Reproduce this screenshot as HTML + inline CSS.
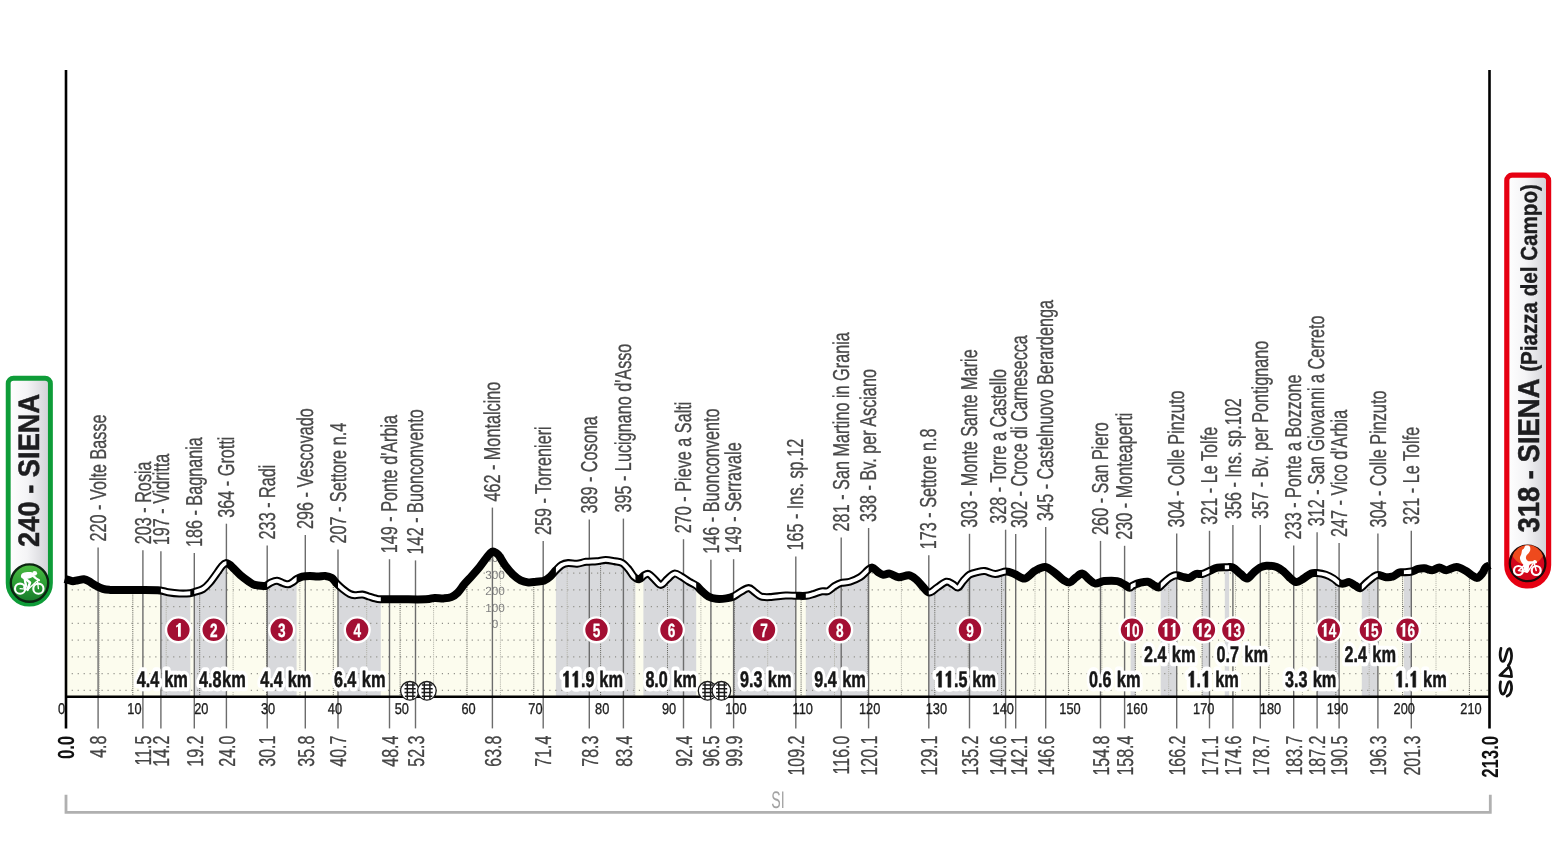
<!DOCTYPE html>
<html lang="it"><head><meta charset="utf-8"><title>Strade Bianche - Altimetria</title>
<style>html,body{margin:0;padding:0;background:#fff}body{width:1558px;height:856px;overflow:hidden}svg{display:block;will-change:transform}text{font-family:"Liberation Sans", sans-serif;text-rendering:geometricPrecision}</style></head><body>
<svg width="1558" height="856" viewBox="0 0 1558 856">
<defs>
<clipPath id="area"><path d="M64.8 578.9C65.5 579.1 67.6 579.8 69.0 580.2C70.4 580.6 71.5 581.2 73.0 581.2C74.5 581.2 76.2 580.5 78.0 580.2C79.8 579.9 82.1 579.0 83.9 579.2C85.7 579.4 87.2 580.2 89.0 581.2C90.8 582.2 92.4 583.7 94.7 585.0C97.0 586.3 100.5 588.1 103.0 588.9C105.5 589.7 106.3 589.7 110.0 589.9C113.7 590.1 119.2 590.1 125.0 590.1C130.8 590.1 139.1 590.0 145.0 590.0C150.9 590.0 156.4 590.0 160.2 590.4C164.0 590.8 164.8 591.7 168.0 592.2C171.2 592.7 175.7 593.3 179.4 593.5C183.1 593.7 187.5 593.5 190.0 593.2C192.5 593.0 192.3 592.7 194.5 592.0C196.7 591.3 200.4 590.6 203.0 589.0C205.6 587.4 207.6 585.3 210.0 582.5C212.4 579.7 215.7 574.8 217.7 572.0C219.7 569.2 220.7 567.5 222.0 566.0C223.3 564.5 224.6 563.3 225.8 563.1C227.1 562.9 228.3 563.9 229.5 564.6C230.7 565.4 231.0 565.8 232.8 567.6C234.6 569.4 237.9 573.0 240.5 575.3C243.1 577.5 245.8 579.5 248.2 581.1C250.6 582.7 252.1 584.1 254.7 584.9C257.3 585.7 261.7 585.9 263.6 586.0C265.5 586.1 264.9 586.2 266.2 585.6C267.5 585.0 269.5 583.2 271.3 582.4C273.1 581.6 275.2 580.7 277.1 580.8C279.0 580.9 281.1 582.4 282.9 583.0C284.7 583.6 286.3 584.5 288.0 584.3C289.7 584.1 291.8 582.6 293.2 581.7C294.6 580.9 294.9 580.1 296.4 579.2C297.9 578.4 299.9 577.2 302.2 576.6C304.4 576.0 307.3 575.9 309.9 575.9C312.5 575.9 315.0 576.6 317.6 576.6C320.2 576.6 323.0 575.7 325.3 575.9C327.6 576.1 329.8 576.6 331.7 577.9C333.6 579.2 334.9 581.7 336.8 583.6C338.7 585.5 341.1 587.7 343.2 589.4C345.3 591.1 347.8 592.9 349.7 593.9C351.6 594.9 352.7 595.1 354.8 595.2C356.9 595.3 360.1 594.4 362.5 594.6C364.9 594.8 366.8 595.9 368.9 596.5C371.0 597.1 373.4 597.9 375.3 598.4C377.2 598.9 376.4 599.1 380.5 599.3C384.6 599.4 392.5 599.3 400.0 599.3C407.5 599.3 419.9 599.5 425.7 599.3C431.5 599.1 431.7 598.1 434.7 598.0C437.7 597.9 440.8 598.5 443.6 598.4C446.4 598.2 448.9 598.1 451.3 597.1C453.7 596.1 455.7 594.7 457.8 592.6C459.9 590.5 461.9 587.1 464.2 584.3C466.5 581.5 469.3 578.8 471.9 575.9C474.5 573.0 477.0 570.2 479.6 567.0C482.2 563.8 485.5 559.0 487.3 556.7C489.1 554.4 489.5 553.9 490.5 553.0C491.5 552.1 492.2 551.6 493.1 551.6C494.0 551.6 494.9 552.2 495.8 552.8C496.8 553.4 497.2 553.2 498.8 555.4C500.4 557.5 502.9 562.5 505.3 565.7C507.7 568.9 510.4 572.2 513.0 574.7C515.6 577.2 518.1 579.1 520.7 580.4C523.3 581.7 525.8 582.2 528.4 582.4C531.0 582.6 533.5 582.0 536.1 581.7C538.7 581.4 541.4 581.6 543.8 580.8C546.1 579.9 548.2 578.4 550.2 576.6C552.2 574.8 554.1 572.1 556.0 570.2C557.9 568.3 559.7 566.2 561.7 565.0C563.7 563.8 565.6 563.3 568.2 563.1C570.8 562.9 574.1 563.9 577.1 563.7C580.1 563.5 582.8 562.2 586.1 561.8C589.4 561.4 593.4 561.5 596.7 561.2C600.0 560.9 602.7 559.9 605.7 559.9C608.7 559.9 611.9 560.7 614.7 561.2C617.5 561.7 620.0 561.7 622.4 563.1C624.8 564.5 626.9 567.2 628.8 569.5C630.7 571.8 632.2 575.0 633.9 576.6C635.6 578.2 637.3 579.4 639.0 579.2C640.7 579.0 642.6 576.2 644.2 575.3C645.8 574.4 647.0 573.4 648.7 574.0C650.4 574.6 652.5 577.4 654.5 579.2C656.5 581.0 658.8 584.9 660.9 584.9C663.0 584.9 665.0 581.1 667.3 579.2C669.5 577.3 672.0 574.0 674.4 573.6C676.8 573.2 678.9 575.2 681.4 576.6C683.9 578.0 686.6 580.2 689.1 581.7C691.6 583.2 694.1 584.0 696.2 585.6C698.4 587.2 700.0 589.5 702.0 591.3C704.0 593.1 706.0 595.2 708.4 596.5C710.8 597.8 713.1 598.5 716.1 598.8C719.1 599.1 723.4 598.8 726.3 598.4C729.2 598.0 731.0 597.6 733.4 596.5C735.8 595.4 737.9 593.4 740.5 592.0C743.1 590.6 746.4 588.1 748.8 588.1C751.1 588.1 752.6 590.6 754.6 592.0C756.6 593.4 758.4 595.6 761.0 596.5C763.6 597.4 765.9 597.3 770.0 597.1C774.1 596.9 781.4 595.7 785.7 595.5C790.0 595.3 792.5 595.8 795.9 595.8C799.3 595.8 803.2 596.1 806.2 595.8C809.2 595.5 811.3 594.6 813.9 593.9C816.5 593.1 819.2 591.8 821.6 591.3C824.0 590.8 825.9 592.0 828.0 591.1C830.1 590.2 832.4 587.6 834.5 586.2C836.6 584.9 838.3 583.8 840.9 583.0C843.5 582.2 846.7 582.7 849.9 581.7C853.1 580.7 857.1 579.1 860.1 577.2C863.1 575.3 865.8 571.8 867.8 570.2C869.8 568.6 870.6 567.3 872.3 567.6C874.0 567.9 876.3 570.9 878.1 572.1C879.9 573.3 881.3 574.5 883.2 574.7C885.1 575.0 887.1 573.2 889.7 573.6C892.3 574.0 895.4 576.9 898.6 577.2C901.8 577.5 905.9 574.9 908.9 575.3C911.9 575.7 914.2 577.9 916.6 579.8C919.0 581.7 920.9 584.8 923.0 586.9C925.1 589.0 927.0 592.5 929.4 592.6C931.8 592.7 934.4 589.3 937.2 587.5C940.0 585.7 943.8 582.2 946.4 581.7C949.0 581.2 950.9 583.3 952.8 584.3C954.7 585.3 956.3 588.0 958.0 587.5C959.7 587.0 961.2 583.2 963.1 581.1C965.0 579.0 967.1 576.2 969.5 574.7C971.9 573.2 974.6 572.7 977.2 572.1C979.8 571.5 981.9 570.8 984.9 571.1C987.9 571.4 991.7 573.9 995.2 574.0C998.7 574.1 1002.9 571.5 1006.1 571.5C1009.3 571.5 1011.4 572.8 1014.5 574.0C1017.6 575.2 1021.3 579.0 1024.7 578.5C1028.1 578.0 1031.6 572.7 1035.0 570.8C1038.4 568.9 1041.9 566.6 1045.3 567.0C1048.7 567.4 1052.5 571.3 1055.5 573.4C1058.5 575.5 1060.8 578.3 1063.2 579.8C1065.6 581.3 1067.6 582.8 1069.7 582.4C1071.8 582.0 1074.0 578.7 1076.1 577.2C1078.2 575.7 1080.4 573.3 1082.5 573.6C1084.6 573.9 1086.8 577.5 1088.9 579.2C1091.0 580.9 1092.7 583.3 1095.3 583.6C1097.9 583.9 1100.6 581.5 1104.3 581.1C1108.0 580.7 1113.8 580.5 1117.2 581.1C1120.6 581.7 1122.8 583.8 1124.9 584.9C1127.0 586.0 1128.3 587.7 1129.6 587.8C1130.9 587.9 1131.2 586.4 1132.8 585.6C1134.4 584.8 1136.8 583.6 1139.3 583.0C1141.8 582.4 1145.2 581.4 1147.6 581.7C1149.9 582.0 1151.6 583.9 1153.4 584.9C1155.2 585.9 1157.0 587.6 1158.5 587.5C1160.0 587.4 1160.7 585.8 1162.4 584.3C1164.1 582.8 1166.6 580.0 1168.8 578.5C1171.0 577.0 1173.2 575.5 1175.8 575.3C1178.4 575.1 1182.0 576.8 1184.2 577.2C1186.5 577.6 1187.4 578.4 1189.3 577.9C1191.2 577.4 1193.5 574.6 1195.7 574.0C1197.9 573.4 1199.8 574.5 1202.2 574.0C1204.6 573.5 1207.3 571.9 1209.9 570.8C1212.5 569.7 1214.7 568.2 1217.6 567.6C1220.5 567.0 1224.6 567.2 1227.2 567.2C1229.8 567.2 1230.8 566.5 1233.0 567.6C1235.2 568.7 1238.4 572.2 1240.7 574.0C1243.0 575.8 1245.0 578.7 1247.1 578.5C1249.2 578.3 1251.4 574.5 1253.5 572.7C1255.6 570.9 1257.8 568.8 1259.9 567.6C1262.0 566.4 1263.5 565.8 1266.3 565.7C1269.1 565.6 1273.6 565.9 1276.6 567.0C1279.6 568.1 1281.9 570.2 1284.3 572.1C1286.7 574.0 1288.7 576.8 1290.7 578.5C1292.7 580.2 1294.3 582.1 1296.5 582.1C1298.7 582.1 1301.1 580.0 1303.6 578.5C1306.1 577.0 1309.0 574.3 1311.3 573.4C1313.6 572.5 1314.9 572.9 1317.3 573.1C1319.7 573.3 1323.0 573.8 1325.7 574.7C1328.4 575.6 1331.2 577.1 1333.4 578.5C1335.7 579.9 1337.5 582.1 1339.2 583.0C1340.9 583.9 1341.9 583.8 1343.6 583.6C1345.3 583.5 1347.5 581.8 1349.4 582.1C1351.3 582.4 1353.4 584.6 1355.2 585.6C1357.0 586.6 1358.4 588.6 1360.3 588.1C1362.2 587.6 1364.6 584.2 1366.8 582.4C1369.0 580.6 1371.3 578.5 1373.2 577.2C1375.1 576.0 1375.9 574.9 1378.0 574.9C1380.1 574.9 1383.6 576.9 1386.0 577.2C1388.4 577.5 1390.3 577.4 1392.4 576.6C1394.5 575.9 1397.1 573.4 1398.8 572.7C1400.5 572.0 1400.5 572.5 1402.7 572.3C1404.9 572.1 1409.1 572.1 1411.7 571.5C1414.3 570.9 1416.0 569.4 1418.1 568.9C1420.2 568.4 1422.2 568.0 1424.5 568.2C1426.8 568.4 1429.7 570.3 1432.2 570.2C1434.7 570.1 1437.0 567.6 1439.3 567.6C1441.6 567.6 1443.4 570.3 1446.3 570.2C1449.2 570.1 1453.4 566.9 1456.6 567.0C1459.8 567.1 1463.0 569.4 1465.6 570.8C1468.2 572.2 1470.1 574.1 1472.0 575.3C1473.9 576.5 1475.5 578.2 1477.2 577.9C1478.9 577.6 1480.9 575.1 1482.3 573.4C1483.7 571.7 1484.3 568.9 1485.5 567.6C1486.7 566.3 1488.9 565.8 1489.6 565.4L1489.6 696.7L64.8 696.7Z"/></clipPath>
<clipPath id="sect"><rect x="160.9" y="500" width="29.4" height="220"/><rect x="194.3" y="500" width="32.1" height="220"/><rect x="267.2" y="500" width="29.4" height="220"/><rect x="338.0" y="500" width="42.8" height="220"/><rect x="555.9" y="500" width="79.5" height="220"/><rect x="643.4" y="500" width="52.8" height="220"/><rect x="733.6" y="500" width="62.2" height="220"/><rect x="805.8" y="500" width="62.8" height="220"/><rect x="928.8" y="500" width="76.9" height="220"/><rect x="1130.6" y="500" width="5.0" height="220"/><rect x="1160.7" y="500" width="16.0" height="220"/><rect x="1202.1" y="500" width="7.4" height="220"/><rect x="1224.8" y="500" width="4.3" height="220"/><rect x="1317.1" y="500" width="22.1" height="220"/><rect x="1361.8" y="500" width="16.0" height="220"/><rect x="1403.9" y="500" width="7.4" height="220"/></clipPath>
<linearGradient id="pillg" x1="0" x2="1" y1="0" y2="0"><stop offset="0" stop-color="#ffffff"/><stop offset="0.45" stop-color="#f4f4f6"/><stop offset="1" stop-color="#cfcfd4"/></linearGradient>
<linearGradient id="greeng" x1="0" x2="0" y1="0" y2="1"><stop offset="0" stop-color="#4dbb42"/><stop offset="0.55" stop-color="#2a9c34"/><stop offset="1" stop-color="#19792a"/></linearGradient>
</defs>
<rect width="1558" height="856" fill="#fff"/>
<g clip-path="url(#area)">
<rect x="60" y="540" width="1440" height="160" fill="#fcfcee"/>
<rect x="160.9" y="540" width="29.4" height="160" fill="#d8d9dc"/>
<rect x="194.3" y="540" width="32.1" height="160" fill="#d8d9dc"/>
<rect x="267.2" y="540" width="29.4" height="160" fill="#d8d9dc"/>
<rect x="338.0" y="540" width="42.8" height="160" fill="#d8d9dc"/>
<rect x="555.9" y="540" width="79.5" height="160" fill="#d8d9dc"/>
<rect x="643.4" y="540" width="52.8" height="160" fill="#d8d9dc"/>
<rect x="733.6" y="540" width="62.2" height="160" fill="#d8d9dc"/>
<rect x="805.8" y="540" width="62.8" height="160" fill="#d8d9dc"/>
<rect x="928.8" y="540" width="76.9" height="160" fill="#d8d9dc"/>
<rect x="1130.6" y="540" width="5.0" height="160" fill="#d8d9dc"/>
<rect x="1160.7" y="540" width="16.0" height="160" fill="#d8d9dc"/>
<rect x="1202.1" y="540" width="7.4" height="160" fill="#d8d9dc"/>
<rect x="1224.8" y="540" width="4.3" height="160" fill="#d8d9dc"/>
<rect x="1317.1" y="540" width="22.1" height="160" fill="#d8d9dc"/>
<rect x="1361.8" y="540" width="16.0" height="160" fill="#d8d9dc"/>
<rect x="1403.9" y="540" width="7.4" height="160" fill="#d8d9dc"/>
<line x1="71.7" x2="1490" y1="573.1" y2="573.1" stroke="#8f8f88" stroke-width="1.15" stroke-dasharray="1.15 4.82"/>
<line x1="71.7" x2="1490" y1="589.9" y2="589.9" stroke="#8f8f88" stroke-width="1.15" stroke-dasharray="1.15 4.82"/>
<line x1="71.7" x2="1490" y1="606.6" y2="606.6" stroke="#8f8f88" stroke-width="1.15" stroke-dasharray="1.15 4.82"/>
<line x1="71.7" x2="1490" y1="623.4" y2="623.4" stroke="#8f8f88" stroke-width="1.15" stroke-dasharray="1.15 4.82"/>
<line x1="71.7" x2="1490" y1="640.1" y2="640.1" stroke="#8f8f88" stroke-width="1.15" stroke-dasharray="1.15 4.82"/>
<line x1="71.7" x2="1490" y1="656.9" y2="656.9" stroke="#8f8f88" stroke-width="1.15" stroke-dasharray="1.15 4.82"/>
<line x1="71.7" x2="1490" y1="673.6" y2="673.6" stroke="#8f8f88" stroke-width="1.15" stroke-dasharray="1.15 4.82"/>
<line x1="71.7" x2="1490" y1="690.4" y2="690.4" stroke="#8f8f88" stroke-width="1.15" stroke-dasharray="1.15 4.82"/>
<line x1="99.4" x2="99.4" y1="545" y2="697" stroke="#b2b2a8" stroke-width="1" stroke-dasharray="1.1 1"/>
<line x1="132.8" x2="132.8" y1="545" y2="697" stroke="#66665f" stroke-width="1" stroke-dasharray="1.1 1"/>
<line x1="166.2" x2="166.2" y1="545" y2="697" stroke="#b2b2a8" stroke-width="1" stroke-dasharray="1.1 1"/>
<line x1="199.7" x2="199.7" y1="545" y2="697" stroke="#66665f" stroke-width="1" stroke-dasharray="1.1 1"/>
<line x1="233.1" x2="233.1" y1="545" y2="697" stroke="#b2b2a8" stroke-width="1" stroke-dasharray="1.1 1"/>
<line x1="266.5" x2="266.5" y1="545" y2="697" stroke="#66665f" stroke-width="1" stroke-dasharray="1.1 1"/>
<line x1="299.9" x2="299.9" y1="545" y2="697" stroke="#b2b2a8" stroke-width="1" stroke-dasharray="1.1 1"/>
<line x1="333.3" x2="333.3" y1="545" y2="697" stroke="#66665f" stroke-width="1" stroke-dasharray="1.1 1"/>
<line x1="366.7" x2="366.7" y1="545" y2="697" stroke="#b2b2a8" stroke-width="1" stroke-dasharray="1.1 1"/>
<line x1="400.1" x2="400.1" y1="545" y2="697" stroke="#66665f" stroke-width="1" stroke-dasharray="1.1 1"/>
<line x1="433.6" x2="433.6" y1="545" y2="697" stroke="#b2b2a8" stroke-width="1" stroke-dasharray="1.1 1"/>
<line x1="467.0" x2="467.0" y1="545" y2="697" stroke="#66665f" stroke-width="1" stroke-dasharray="1.1 1"/>
<line x1="500.4" x2="500.4" y1="545" y2="697" stroke="#b2b2a8" stroke-width="1" stroke-dasharray="1.1 1"/>
<line x1="533.8" x2="533.8" y1="545" y2="697" stroke="#66665f" stroke-width="1" stroke-dasharray="1.1 1"/>
<line x1="567.2" x2="567.2" y1="545" y2="697" stroke="#b2b2a8" stroke-width="1" stroke-dasharray="1.1 1"/>
<line x1="600.6" x2="600.6" y1="545" y2="697" stroke="#66665f" stroke-width="1" stroke-dasharray="1.1 1"/>
<line x1="634.1" x2="634.1" y1="545" y2="697" stroke="#b2b2a8" stroke-width="1" stroke-dasharray="1.1 1"/>
<line x1="667.5" x2="667.5" y1="545" y2="697" stroke="#66665f" stroke-width="1" stroke-dasharray="1.1 1"/>
<line x1="700.9" x2="700.9" y1="545" y2="697" stroke="#b2b2a8" stroke-width="1" stroke-dasharray="1.1 1"/>
<line x1="734.3" x2="734.3" y1="545" y2="697" stroke="#66665f" stroke-width="1" stroke-dasharray="1.1 1"/>
<line x1="767.7" x2="767.7" y1="545" y2="697" stroke="#b2b2a8" stroke-width="1" stroke-dasharray="1.1 1"/>
<line x1="801.1" x2="801.1" y1="545" y2="697" stroke="#66665f" stroke-width="1" stroke-dasharray="1.1 1"/>
<line x1="834.5" x2="834.5" y1="545" y2="697" stroke="#b2b2a8" stroke-width="1" stroke-dasharray="1.1 1"/>
<line x1="868.0" x2="868.0" y1="545" y2="697" stroke="#66665f" stroke-width="1" stroke-dasharray="1.1 1"/>
<line x1="901.4" x2="901.4" y1="545" y2="697" stroke="#b2b2a8" stroke-width="1" stroke-dasharray="1.1 1"/>
<line x1="934.8" x2="934.8" y1="545" y2="697" stroke="#66665f" stroke-width="1" stroke-dasharray="1.1 1"/>
<line x1="968.2" x2="968.2" y1="545" y2="697" stroke="#b2b2a8" stroke-width="1" stroke-dasharray="1.1 1"/>
<line x1="1001.6" x2="1001.6" y1="545" y2="697" stroke="#66665f" stroke-width="1" stroke-dasharray="1.1 1"/>
<line x1="1035.0" x2="1035.0" y1="545" y2="697" stroke="#b2b2a8" stroke-width="1" stroke-dasharray="1.1 1"/>
<line x1="1068.4" x2="1068.4" y1="545" y2="697" stroke="#66665f" stroke-width="1" stroke-dasharray="1.1 1"/>
<line x1="1101.9" x2="1101.9" y1="545" y2="697" stroke="#b2b2a8" stroke-width="1" stroke-dasharray="1.1 1"/>
<line x1="1135.3" x2="1135.3" y1="545" y2="697" stroke="#66665f" stroke-width="1" stroke-dasharray="1.1 1"/>
<line x1="1168.7" x2="1168.7" y1="545" y2="697" stroke="#b2b2a8" stroke-width="1" stroke-dasharray="1.1 1"/>
<line x1="1202.1" x2="1202.1" y1="545" y2="697" stroke="#66665f" stroke-width="1" stroke-dasharray="1.1 1"/>
<line x1="1235.5" x2="1235.5" y1="545" y2="697" stroke="#b2b2a8" stroke-width="1" stroke-dasharray="1.1 1"/>
<line x1="1268.9" x2="1268.9" y1="545" y2="697" stroke="#66665f" stroke-width="1" stroke-dasharray="1.1 1"/>
<line x1="1302.4" x2="1302.4" y1="545" y2="697" stroke="#b2b2a8" stroke-width="1" stroke-dasharray="1.1 1"/>
<line x1="1335.8" x2="1335.8" y1="545" y2="697" stroke="#66665f" stroke-width="1" stroke-dasharray="1.1 1"/>
<line x1="1369.2" x2="1369.2" y1="545" y2="697" stroke="#b2b2a8" stroke-width="1" stroke-dasharray="1.1 1"/>
<line x1="1402.6" x2="1402.6" y1="545" y2="697" stroke="#66665f" stroke-width="1" stroke-dasharray="1.1 1"/>
<line x1="1436.0" x2="1436.0" y1="545" y2="697" stroke="#b2b2a8" stroke-width="1" stroke-dasharray="1.1 1"/>
<line x1="1469.4" x2="1469.4" y1="545" y2="697" stroke="#66665f" stroke-width="1" stroke-dasharray="1.1 1"/>
</g>
<text x="495.0" y="557.7" font-size="11.8" fill="#808080" text-anchor="middle" dy="4.2">400</text>
<text x="495.0" y="574.3" font-size="11.8" fill="#808080" text-anchor="middle" dy="4.2">300</text>
<text x="495.0" y="590.9" font-size="11.8" fill="#808080" text-anchor="middle" dy="4.2">200</text>
<text x="495.0" y="607.5" font-size="11.8" fill="#808080" text-anchor="middle" dy="4.2">100</text>
<text x="495.0" y="624.0" font-size="11.8" fill="#808080" text-anchor="middle" dy="4.2">0</text>
<line x1="98.1" x2="98.1" y1="547.5" y2="728.4" stroke="#6c6c6c" stroke-width="1.4"/>
<line x1="142.9" x2="142.9" y1="550.3" y2="728.4" stroke="#6c6c6c" stroke-width="1.4"/>
<line x1="160.9" x2="160.9" y1="551.3" y2="728.4" stroke="#6c6c6c" stroke-width="1.4"/>
<line x1="194.3" x2="194.3" y1="553.1" y2="728.4" stroke="#6c6c6c" stroke-width="1.4"/>
<line x1="226.4" x2="226.4" y1="523.7" y2="728.4" stroke="#6c6c6c" stroke-width="1.4"/>
<line x1="267.2" x2="267.2" y1="545.4" y2="728.4" stroke="#6c6c6c" stroke-width="1.4"/>
<line x1="305.3" x2="305.3" y1="535.0" y2="728.4" stroke="#6c6c6c" stroke-width="1.4"/>
<line x1="338.0" x2="338.0" y1="549.6" y2="728.4" stroke="#6c6c6c" stroke-width="1.4"/>
<line x1="389.5" x2="389.5" y1="559.2" y2="728.4" stroke="#6c6c6c" stroke-width="1.4"/>
<line x1="415.5" x2="415.5" y1="560.4" y2="728.4" stroke="#6c6c6c" stroke-width="1.4"/>
<line x1="492.4" x2="492.4" y1="507.6" y2="728.4" stroke="#6c6c6c" stroke-width="1.4"/>
<line x1="543.2" x2="543.2" y1="541.1" y2="728.4" stroke="#6c6c6c" stroke-width="1.4"/>
<line x1="589.3" x2="589.3" y1="519.6" y2="728.4" stroke="#6c6c6c" stroke-width="1.4"/>
<line x1="623.4" x2="623.4" y1="518.6" y2="728.4" stroke="#6c6c6c" stroke-width="1.4"/>
<line x1="683.5" x2="683.5" y1="539.2" y2="728.4" stroke="#6c6c6c" stroke-width="1.4"/>
<line x1="710.9" x2="710.9" y1="559.7" y2="728.4" stroke="#6c6c6c" stroke-width="1.4"/>
<line x1="733.6" x2="733.6" y1="559.2" y2="728.4" stroke="#6c6c6c" stroke-width="1.4"/>
<line x1="795.8" x2="795.8" y1="556.6" y2="728.4" stroke="#6c6c6c" stroke-width="1.4"/>
<line x1="841.2" x2="841.2" y1="537.4" y2="728.4" stroke="#6c6c6c" stroke-width="1.4"/>
<line x1="868.6" x2="868.6" y1="528.0" y2="728.4" stroke="#6c6c6c" stroke-width="1.4"/>
<line x1="928.8" x2="928.8" y1="555.3" y2="728.4" stroke="#6c6c6c" stroke-width="1.4"/>
<line x1="969.5" x2="969.5" y1="533.8" y2="728.4" stroke="#6c6c6c" stroke-width="1.4"/>
<line x1="1005.6" x2="1005.6" y1="529.7" y2="728.4" stroke="#6c6c6c" stroke-width="1.4"/>
<line x1="1015.7" x2="1015.7" y1="534.0" y2="728.4" stroke="#6c6c6c" stroke-width="1.4"/>
<line x1="1045.7" x2="1045.7" y1="526.9" y2="728.4" stroke="#6c6c6c" stroke-width="1.4"/>
<line x1="1100.5" x2="1100.5" y1="540.9" y2="728.4" stroke="#6c6c6c" stroke-width="1.4"/>
<line x1="1124.6" x2="1124.6" y1="545.8" y2="728.4" stroke="#6c6c6c" stroke-width="1.4"/>
<line x1="1176.7" x2="1176.7" y1="533.6" y2="728.4" stroke="#6c6c6c" stroke-width="1.4"/>
<line x1="1209.5" x2="1209.5" y1="530.8" y2="728.4" stroke="#6c6c6c" stroke-width="1.4"/>
<line x1="1232.9" x2="1232.9" y1="525.1" y2="728.4" stroke="#6c6c6c" stroke-width="1.4"/>
<line x1="1260.3" x2="1260.3" y1="524.9" y2="728.4" stroke="#6c6c6c" stroke-width="1.4"/>
<line x1="1293.7" x2="1293.7" y1="545.4" y2="728.4" stroke="#6c6c6c" stroke-width="1.4"/>
<line x1="1317.1" x2="1317.1" y1="532.3" y2="728.4" stroke="#6c6c6c" stroke-width="1.4"/>
<line x1="1339.1" x2="1339.1" y1="543.0" y2="728.4" stroke="#6c6c6c" stroke-width="1.4"/>
<line x1="1377.9" x2="1377.9" y1="533.6" y2="728.4" stroke="#6c6c6c" stroke-width="1.4"/>
<line x1="1411.3" x2="1411.3" y1="530.8" y2="728.4" stroke="#6c6c6c" stroke-width="1.4"/>
<path d="M64.8 578.9C65.5 579.1 67.6 579.8 69.0 580.2C70.4 580.6 71.5 581.2 73.0 581.2C74.5 581.2 76.2 580.5 78.0 580.2C79.8 579.9 82.1 579.0 83.9 579.2C85.7 579.4 87.2 580.2 89.0 581.2C90.8 582.2 92.4 583.7 94.7 585.0C97.0 586.3 100.5 588.1 103.0 588.9C105.5 589.7 106.3 589.7 110.0 589.9C113.7 590.1 119.2 590.1 125.0 590.1C130.8 590.1 139.1 590.0 145.0 590.0C150.9 590.0 156.4 590.0 160.2 590.4C164.0 590.8 164.8 591.7 168.0 592.2C171.2 592.7 175.7 593.3 179.4 593.5C183.1 593.7 187.5 593.5 190.0 593.2C192.5 593.0 192.3 592.7 194.5 592.0C196.7 591.3 200.4 590.6 203.0 589.0C205.6 587.4 207.6 585.3 210.0 582.5C212.4 579.7 215.7 574.8 217.7 572.0C219.7 569.2 220.7 567.5 222.0 566.0C223.3 564.5 224.6 563.3 225.8 563.1C227.1 562.9 228.3 563.9 229.5 564.6C230.7 565.4 231.0 565.8 232.8 567.6C234.6 569.4 237.9 573.0 240.5 575.3C243.1 577.5 245.8 579.5 248.2 581.1C250.6 582.7 252.1 584.1 254.7 584.9C257.3 585.7 261.7 585.9 263.6 586.0C265.5 586.1 264.9 586.2 266.2 585.6C267.5 585.0 269.5 583.2 271.3 582.4C273.1 581.6 275.2 580.7 277.1 580.8C279.0 580.9 281.1 582.4 282.9 583.0C284.7 583.6 286.3 584.5 288.0 584.3C289.7 584.1 291.8 582.6 293.2 581.7C294.6 580.9 294.9 580.1 296.4 579.2C297.9 578.4 299.9 577.2 302.2 576.6C304.4 576.0 307.3 575.9 309.9 575.9C312.5 575.9 315.0 576.6 317.6 576.6C320.2 576.6 323.0 575.7 325.3 575.9C327.6 576.1 329.8 576.6 331.7 577.9C333.6 579.2 334.9 581.7 336.8 583.6C338.7 585.5 341.1 587.7 343.2 589.4C345.3 591.1 347.8 592.9 349.7 593.9C351.6 594.9 352.7 595.1 354.8 595.2C356.9 595.3 360.1 594.4 362.5 594.6C364.9 594.8 366.8 595.9 368.9 596.5C371.0 597.1 373.4 597.9 375.3 598.4C377.2 598.9 376.4 599.1 380.5 599.3C384.6 599.4 392.5 599.3 400.0 599.3C407.5 599.3 419.9 599.5 425.7 599.3C431.5 599.1 431.7 598.1 434.7 598.0C437.7 597.9 440.8 598.5 443.6 598.4C446.4 598.2 448.9 598.1 451.3 597.1C453.7 596.1 455.7 594.7 457.8 592.6C459.9 590.5 461.9 587.1 464.2 584.3C466.5 581.5 469.3 578.8 471.9 575.9C474.5 573.0 477.0 570.2 479.6 567.0C482.2 563.8 485.5 559.0 487.3 556.7C489.1 554.4 489.5 553.9 490.5 553.0C491.5 552.1 492.2 551.6 493.1 551.6C494.0 551.6 494.9 552.2 495.8 552.8C496.8 553.4 497.2 553.2 498.8 555.4C500.4 557.5 502.9 562.5 505.3 565.7C507.7 568.9 510.4 572.2 513.0 574.7C515.6 577.2 518.1 579.1 520.7 580.4C523.3 581.7 525.8 582.2 528.4 582.4C531.0 582.6 533.5 582.0 536.1 581.7C538.7 581.4 541.4 581.6 543.8 580.8C546.1 579.9 548.2 578.4 550.2 576.6C552.2 574.8 554.1 572.1 556.0 570.2C557.9 568.3 559.7 566.2 561.7 565.0C563.7 563.8 565.6 563.3 568.2 563.1C570.8 562.9 574.1 563.9 577.1 563.7C580.1 563.5 582.8 562.2 586.1 561.8C589.4 561.4 593.4 561.5 596.7 561.2C600.0 560.9 602.7 559.9 605.7 559.9C608.7 559.9 611.9 560.7 614.7 561.2C617.5 561.7 620.0 561.7 622.4 563.1C624.8 564.5 626.9 567.2 628.8 569.5C630.7 571.8 632.2 575.0 633.9 576.6C635.6 578.2 637.3 579.4 639.0 579.2C640.7 579.0 642.6 576.2 644.2 575.3C645.8 574.4 647.0 573.4 648.7 574.0C650.4 574.6 652.5 577.4 654.5 579.2C656.5 581.0 658.8 584.9 660.9 584.9C663.0 584.9 665.0 581.1 667.3 579.2C669.5 577.3 672.0 574.0 674.4 573.6C676.8 573.2 678.9 575.2 681.4 576.6C683.9 578.0 686.6 580.2 689.1 581.7C691.6 583.2 694.1 584.0 696.2 585.6C698.4 587.2 700.0 589.5 702.0 591.3C704.0 593.1 706.0 595.2 708.4 596.5C710.8 597.8 713.1 598.5 716.1 598.8C719.1 599.1 723.4 598.8 726.3 598.4C729.2 598.0 731.0 597.6 733.4 596.5C735.8 595.4 737.9 593.4 740.5 592.0C743.1 590.6 746.4 588.1 748.8 588.1C751.1 588.1 752.6 590.6 754.6 592.0C756.6 593.4 758.4 595.6 761.0 596.5C763.6 597.4 765.9 597.3 770.0 597.1C774.1 596.9 781.4 595.7 785.7 595.5C790.0 595.3 792.5 595.8 795.9 595.8C799.3 595.8 803.2 596.1 806.2 595.8C809.2 595.5 811.3 594.6 813.9 593.9C816.5 593.1 819.2 591.8 821.6 591.3C824.0 590.8 825.9 592.0 828.0 591.1C830.1 590.2 832.4 587.6 834.5 586.2C836.6 584.9 838.3 583.8 840.9 583.0C843.5 582.2 846.7 582.7 849.9 581.7C853.1 580.7 857.1 579.1 860.1 577.2C863.1 575.3 865.8 571.8 867.8 570.2C869.8 568.6 870.6 567.3 872.3 567.6C874.0 567.9 876.3 570.9 878.1 572.1C879.9 573.3 881.3 574.5 883.2 574.7C885.1 575.0 887.1 573.2 889.7 573.6C892.3 574.0 895.4 576.9 898.6 577.2C901.8 577.5 905.9 574.9 908.9 575.3C911.9 575.7 914.2 577.9 916.6 579.8C919.0 581.7 920.9 584.8 923.0 586.9C925.1 589.0 927.0 592.5 929.4 592.6C931.8 592.7 934.4 589.3 937.2 587.5C940.0 585.7 943.8 582.2 946.4 581.7C949.0 581.2 950.9 583.3 952.8 584.3C954.7 585.3 956.3 588.0 958.0 587.5C959.7 587.0 961.2 583.2 963.1 581.1C965.0 579.0 967.1 576.2 969.5 574.7C971.9 573.2 974.6 572.7 977.2 572.1C979.8 571.5 981.9 570.8 984.9 571.1C987.9 571.4 991.7 573.9 995.2 574.0C998.7 574.1 1002.9 571.5 1006.1 571.5C1009.3 571.5 1011.4 572.8 1014.5 574.0C1017.6 575.2 1021.3 579.0 1024.7 578.5C1028.1 578.0 1031.6 572.7 1035.0 570.8C1038.4 568.9 1041.9 566.6 1045.3 567.0C1048.7 567.4 1052.5 571.3 1055.5 573.4C1058.5 575.5 1060.8 578.3 1063.2 579.8C1065.6 581.3 1067.6 582.8 1069.7 582.4C1071.8 582.0 1074.0 578.7 1076.1 577.2C1078.2 575.7 1080.4 573.3 1082.5 573.6C1084.6 573.9 1086.8 577.5 1088.9 579.2C1091.0 580.9 1092.7 583.3 1095.3 583.6C1097.9 583.9 1100.6 581.5 1104.3 581.1C1108.0 580.7 1113.8 580.5 1117.2 581.1C1120.6 581.7 1122.8 583.8 1124.9 584.9C1127.0 586.0 1128.3 587.7 1129.6 587.8C1130.9 587.9 1131.2 586.4 1132.8 585.6C1134.4 584.8 1136.8 583.6 1139.3 583.0C1141.8 582.4 1145.2 581.4 1147.6 581.7C1149.9 582.0 1151.6 583.9 1153.4 584.9C1155.2 585.9 1157.0 587.6 1158.5 587.5C1160.0 587.4 1160.7 585.8 1162.4 584.3C1164.1 582.8 1166.6 580.0 1168.8 578.5C1171.0 577.0 1173.2 575.5 1175.8 575.3C1178.4 575.1 1182.0 576.8 1184.2 577.2C1186.5 577.6 1187.4 578.4 1189.3 577.9C1191.2 577.4 1193.5 574.6 1195.7 574.0C1197.9 573.4 1199.8 574.5 1202.2 574.0C1204.6 573.5 1207.3 571.9 1209.9 570.8C1212.5 569.7 1214.7 568.2 1217.6 567.6C1220.5 567.0 1224.6 567.2 1227.2 567.2C1229.8 567.2 1230.8 566.5 1233.0 567.6C1235.2 568.7 1238.4 572.2 1240.7 574.0C1243.0 575.8 1245.0 578.7 1247.1 578.5C1249.2 578.3 1251.4 574.5 1253.5 572.7C1255.6 570.9 1257.8 568.8 1259.9 567.6C1262.0 566.4 1263.5 565.8 1266.3 565.7C1269.1 565.6 1273.6 565.9 1276.6 567.0C1279.6 568.1 1281.9 570.2 1284.3 572.1C1286.7 574.0 1288.7 576.8 1290.7 578.5C1292.7 580.2 1294.3 582.1 1296.5 582.1C1298.7 582.1 1301.1 580.0 1303.6 578.5C1306.1 577.0 1309.0 574.3 1311.3 573.4C1313.6 572.5 1314.9 572.9 1317.3 573.1C1319.7 573.3 1323.0 573.8 1325.7 574.7C1328.4 575.6 1331.2 577.1 1333.4 578.5C1335.7 579.9 1337.5 582.1 1339.2 583.0C1340.9 583.9 1341.9 583.8 1343.6 583.6C1345.3 583.5 1347.5 581.8 1349.4 582.1C1351.3 582.4 1353.4 584.6 1355.2 585.6C1357.0 586.6 1358.4 588.6 1360.3 588.1C1362.2 587.6 1364.6 584.2 1366.8 582.4C1369.0 580.6 1371.3 578.5 1373.2 577.2C1375.1 576.0 1375.9 574.9 1378.0 574.9C1380.1 574.9 1383.6 576.9 1386.0 577.2C1388.4 577.5 1390.3 577.4 1392.4 576.6C1394.5 575.9 1397.1 573.4 1398.8 572.7C1400.5 572.0 1400.5 572.5 1402.7 572.3C1404.9 572.1 1409.1 572.1 1411.7 571.5C1414.3 570.9 1416.0 569.4 1418.1 568.9C1420.2 568.4 1422.2 568.0 1424.5 568.2C1426.8 568.4 1429.7 570.3 1432.2 570.2C1434.7 570.1 1437.0 567.6 1439.3 567.6C1441.6 567.6 1443.4 570.3 1446.3 570.2C1449.2 570.1 1453.4 566.9 1456.6 567.0C1459.8 567.1 1463.0 569.4 1465.6 570.8C1468.2 572.2 1470.1 574.1 1472.0 575.3C1473.9 576.5 1475.5 578.2 1477.2 577.9C1478.9 577.6 1480.9 575.1 1482.3 573.4C1483.7 571.7 1484.3 568.9 1485.5 567.6C1486.7 566.3 1488.9 565.8 1489.6 565.4" fill="none" stroke="#000" stroke-width="8" stroke-linejoin="round" stroke-linecap="butt"/>
<path d="M64.8 578.9C65.5 579.1 67.6 579.8 69.0 580.2C70.4 580.6 71.5 581.2 73.0 581.2C74.5 581.2 76.2 580.5 78.0 580.2C79.8 579.9 82.1 579.0 83.9 579.2C85.7 579.4 87.2 580.2 89.0 581.2C90.8 582.2 92.4 583.7 94.7 585.0C97.0 586.3 100.5 588.1 103.0 588.9C105.5 589.7 106.3 589.7 110.0 589.9C113.7 590.1 119.2 590.1 125.0 590.1C130.8 590.1 139.1 590.0 145.0 590.0C150.9 590.0 156.4 590.0 160.2 590.4C164.0 590.8 164.8 591.7 168.0 592.2C171.2 592.7 175.7 593.3 179.4 593.5C183.1 593.7 187.5 593.5 190.0 593.2C192.5 593.0 192.3 592.7 194.5 592.0C196.7 591.3 200.4 590.6 203.0 589.0C205.6 587.4 207.6 585.3 210.0 582.5C212.4 579.7 215.7 574.8 217.7 572.0C219.7 569.2 220.7 567.5 222.0 566.0C223.3 564.5 224.6 563.3 225.8 563.1C227.1 562.9 228.3 563.9 229.5 564.6C230.7 565.4 231.0 565.8 232.8 567.6C234.6 569.4 237.9 573.0 240.5 575.3C243.1 577.5 245.8 579.5 248.2 581.1C250.6 582.7 252.1 584.1 254.7 584.9C257.3 585.7 261.7 585.9 263.6 586.0C265.5 586.1 264.9 586.2 266.2 585.6C267.5 585.0 269.5 583.2 271.3 582.4C273.1 581.6 275.2 580.7 277.1 580.8C279.0 580.9 281.1 582.4 282.9 583.0C284.7 583.6 286.3 584.5 288.0 584.3C289.7 584.1 291.8 582.6 293.2 581.7C294.6 580.9 294.9 580.1 296.4 579.2C297.9 578.4 299.9 577.2 302.2 576.6C304.4 576.0 307.3 575.9 309.9 575.9C312.5 575.9 315.0 576.6 317.6 576.6C320.2 576.6 323.0 575.7 325.3 575.9C327.6 576.1 329.8 576.6 331.7 577.9C333.6 579.2 334.9 581.7 336.8 583.6C338.7 585.5 341.1 587.7 343.2 589.4C345.3 591.1 347.8 592.9 349.7 593.9C351.6 594.9 352.7 595.1 354.8 595.2C356.9 595.3 360.1 594.4 362.5 594.6C364.9 594.8 366.8 595.9 368.9 596.5C371.0 597.1 373.4 597.9 375.3 598.4C377.2 598.9 376.4 599.1 380.5 599.3C384.6 599.4 392.5 599.3 400.0 599.3C407.5 599.3 419.9 599.5 425.7 599.3C431.5 599.1 431.7 598.1 434.7 598.0C437.7 597.9 440.8 598.5 443.6 598.4C446.4 598.2 448.9 598.1 451.3 597.1C453.7 596.1 455.7 594.7 457.8 592.6C459.9 590.5 461.9 587.1 464.2 584.3C466.5 581.5 469.3 578.8 471.9 575.9C474.5 573.0 477.0 570.2 479.6 567.0C482.2 563.8 485.5 559.0 487.3 556.7C489.1 554.4 489.5 553.9 490.5 553.0C491.5 552.1 492.2 551.6 493.1 551.6C494.0 551.6 494.9 552.2 495.8 552.8C496.8 553.4 497.2 553.2 498.8 555.4C500.4 557.5 502.9 562.5 505.3 565.7C507.7 568.9 510.4 572.2 513.0 574.7C515.6 577.2 518.1 579.1 520.7 580.4C523.3 581.7 525.8 582.2 528.4 582.4C531.0 582.6 533.5 582.0 536.1 581.7C538.7 581.4 541.4 581.6 543.8 580.8C546.1 579.9 548.2 578.4 550.2 576.6C552.2 574.8 554.1 572.1 556.0 570.2C557.9 568.3 559.7 566.2 561.7 565.0C563.7 563.8 565.6 563.3 568.2 563.1C570.8 562.9 574.1 563.9 577.1 563.7C580.1 563.5 582.8 562.2 586.1 561.8C589.4 561.4 593.4 561.5 596.7 561.2C600.0 560.9 602.7 559.9 605.7 559.9C608.7 559.9 611.9 560.7 614.7 561.2C617.5 561.7 620.0 561.7 622.4 563.1C624.8 564.5 626.9 567.2 628.8 569.5C630.7 571.8 632.2 575.0 633.9 576.6C635.6 578.2 637.3 579.4 639.0 579.2C640.7 579.0 642.6 576.2 644.2 575.3C645.8 574.4 647.0 573.4 648.7 574.0C650.4 574.6 652.5 577.4 654.5 579.2C656.5 581.0 658.8 584.9 660.9 584.9C663.0 584.9 665.0 581.1 667.3 579.2C669.5 577.3 672.0 574.0 674.4 573.6C676.8 573.2 678.9 575.2 681.4 576.6C683.9 578.0 686.6 580.2 689.1 581.7C691.6 583.2 694.1 584.0 696.2 585.6C698.4 587.2 700.0 589.5 702.0 591.3C704.0 593.1 706.0 595.2 708.4 596.5C710.8 597.8 713.1 598.5 716.1 598.8C719.1 599.1 723.4 598.8 726.3 598.4C729.2 598.0 731.0 597.6 733.4 596.5C735.8 595.4 737.9 593.4 740.5 592.0C743.1 590.6 746.4 588.1 748.8 588.1C751.1 588.1 752.6 590.6 754.6 592.0C756.6 593.4 758.4 595.6 761.0 596.5C763.6 597.4 765.9 597.3 770.0 597.1C774.1 596.9 781.4 595.7 785.7 595.5C790.0 595.3 792.5 595.8 795.9 595.8C799.3 595.8 803.2 596.1 806.2 595.8C809.2 595.5 811.3 594.6 813.9 593.9C816.5 593.1 819.2 591.8 821.6 591.3C824.0 590.8 825.9 592.0 828.0 591.1C830.1 590.2 832.4 587.6 834.5 586.2C836.6 584.9 838.3 583.8 840.9 583.0C843.5 582.2 846.7 582.7 849.9 581.7C853.1 580.7 857.1 579.1 860.1 577.2C863.1 575.3 865.8 571.8 867.8 570.2C869.8 568.6 870.6 567.3 872.3 567.6C874.0 567.9 876.3 570.9 878.1 572.1C879.9 573.3 881.3 574.5 883.2 574.7C885.1 575.0 887.1 573.2 889.7 573.6C892.3 574.0 895.4 576.9 898.6 577.2C901.8 577.5 905.9 574.9 908.9 575.3C911.9 575.7 914.2 577.9 916.6 579.8C919.0 581.7 920.9 584.8 923.0 586.9C925.1 589.0 927.0 592.5 929.4 592.6C931.8 592.7 934.4 589.3 937.2 587.5C940.0 585.7 943.8 582.2 946.4 581.7C949.0 581.2 950.9 583.3 952.8 584.3C954.7 585.3 956.3 588.0 958.0 587.5C959.7 587.0 961.2 583.2 963.1 581.1C965.0 579.0 967.1 576.2 969.5 574.7C971.9 573.2 974.6 572.7 977.2 572.1C979.8 571.5 981.9 570.8 984.9 571.1C987.9 571.4 991.7 573.9 995.2 574.0C998.7 574.1 1002.9 571.5 1006.1 571.5C1009.3 571.5 1011.4 572.8 1014.5 574.0C1017.6 575.2 1021.3 579.0 1024.7 578.5C1028.1 578.0 1031.6 572.7 1035.0 570.8C1038.4 568.9 1041.9 566.6 1045.3 567.0C1048.7 567.4 1052.5 571.3 1055.5 573.4C1058.5 575.5 1060.8 578.3 1063.2 579.8C1065.6 581.3 1067.6 582.8 1069.7 582.4C1071.8 582.0 1074.0 578.7 1076.1 577.2C1078.2 575.7 1080.4 573.3 1082.5 573.6C1084.6 573.9 1086.8 577.5 1088.9 579.2C1091.0 580.9 1092.7 583.3 1095.3 583.6C1097.9 583.9 1100.6 581.5 1104.3 581.1C1108.0 580.7 1113.8 580.5 1117.2 581.1C1120.6 581.7 1122.8 583.8 1124.9 584.9C1127.0 586.0 1128.3 587.7 1129.6 587.8C1130.9 587.9 1131.2 586.4 1132.8 585.6C1134.4 584.8 1136.8 583.6 1139.3 583.0C1141.8 582.4 1145.2 581.4 1147.6 581.7C1149.9 582.0 1151.6 583.9 1153.4 584.9C1155.2 585.9 1157.0 587.6 1158.5 587.5C1160.0 587.4 1160.7 585.8 1162.4 584.3C1164.1 582.8 1166.6 580.0 1168.8 578.5C1171.0 577.0 1173.2 575.5 1175.8 575.3C1178.4 575.1 1182.0 576.8 1184.2 577.2C1186.5 577.6 1187.4 578.4 1189.3 577.9C1191.2 577.4 1193.5 574.6 1195.7 574.0C1197.9 573.4 1199.8 574.5 1202.2 574.0C1204.6 573.5 1207.3 571.9 1209.9 570.8C1212.5 569.7 1214.7 568.2 1217.6 567.6C1220.5 567.0 1224.6 567.2 1227.2 567.2C1229.8 567.2 1230.8 566.5 1233.0 567.6C1235.2 568.7 1238.4 572.2 1240.7 574.0C1243.0 575.8 1245.0 578.7 1247.1 578.5C1249.2 578.3 1251.4 574.5 1253.5 572.7C1255.6 570.9 1257.8 568.8 1259.9 567.6C1262.0 566.4 1263.5 565.8 1266.3 565.7C1269.1 565.6 1273.6 565.9 1276.6 567.0C1279.6 568.1 1281.9 570.2 1284.3 572.1C1286.7 574.0 1288.7 576.8 1290.7 578.5C1292.7 580.2 1294.3 582.1 1296.5 582.1C1298.7 582.1 1301.1 580.0 1303.6 578.5C1306.1 577.0 1309.0 574.3 1311.3 573.4C1313.6 572.5 1314.9 572.9 1317.3 573.1C1319.7 573.3 1323.0 573.8 1325.7 574.7C1328.4 575.6 1331.2 577.1 1333.4 578.5C1335.7 579.9 1337.5 582.1 1339.2 583.0C1340.9 583.9 1341.9 583.8 1343.6 583.6C1345.3 583.5 1347.5 581.8 1349.4 582.1C1351.3 582.4 1353.4 584.6 1355.2 585.6C1357.0 586.6 1358.4 588.6 1360.3 588.1C1362.2 587.6 1364.6 584.2 1366.8 582.4C1369.0 580.6 1371.3 578.5 1373.2 577.2C1375.1 576.0 1375.9 574.9 1378.0 574.9C1380.1 574.9 1383.6 576.9 1386.0 577.2C1388.4 577.5 1390.3 577.4 1392.4 576.6C1394.5 575.9 1397.1 573.4 1398.8 572.7C1400.5 572.0 1400.5 572.5 1402.7 572.3C1404.9 572.1 1409.1 572.1 1411.7 571.5C1414.3 570.9 1416.0 569.4 1418.1 568.9C1420.2 568.4 1422.2 568.0 1424.5 568.2C1426.8 568.4 1429.7 570.3 1432.2 570.2C1434.7 570.1 1437.0 567.6 1439.3 567.6C1441.6 567.6 1443.4 570.3 1446.3 570.2C1449.2 570.1 1453.4 566.9 1456.6 567.0C1459.8 567.1 1463.0 569.4 1465.6 570.8C1468.2 572.2 1470.1 574.1 1472.0 575.3C1473.9 576.5 1475.5 578.2 1477.2 577.9C1478.9 577.6 1480.9 575.1 1482.3 573.4C1483.7 571.7 1484.3 568.9 1485.5 567.6C1486.7 566.3 1488.9 565.8 1489.6 565.4" fill="none" stroke="#fff" stroke-width="3.9" stroke-linejoin="round" clip-path="url(#sect)"/>
<path d="M66.0 70V728.4M1489.5 70V728.4" stroke="#000" stroke-width="2.6" fill="none"/>
<line x1="66.0" x2="1489.5" y1="696.7" y2="696.7" stroke="#000" stroke-width="2.4"/>
<circle cx="178.4" cy="629.8" r="12.4" fill="#a30f33" stroke="#fff" stroke-width="2.4"/>
<path transform="translate(178.00 636.70)" d="M0 0H2.8V-13.8H0.9C0.6-12.6-0.6-11.6-1.9-11.3V-9.2C-1.2-9.4-0.5-9.7 0-10.1Z" fill="#fff"/>
<circle cx="213.7" cy="629.8" r="12.4" fill="#a30f33" stroke="#fff" stroke-width="2.4"/>
<text transform="translate(213.70 636.70) scale(0.71 1)" font-size="19.2" font-weight="bold" fill="#fff" stroke="#fff" stroke-width="0.3" text-anchor="middle">2</text>
<circle cx="281.7" cy="629.8" r="12.4" fill="#a30f33" stroke="#fff" stroke-width="2.4"/>
<text transform="translate(281.70 636.70) scale(0.71 1)" font-size="19.2" font-weight="bold" fill="#fff" stroke="#fff" stroke-width="0.3" text-anchor="middle">3</text>
<circle cx="357.2" cy="629.8" r="12.4" fill="#a30f33" stroke="#fff" stroke-width="2.4"/>
<text transform="translate(357.20 636.70) scale(0.71 1)" font-size="19.2" font-weight="bold" fill="#fff" stroke="#fff" stroke-width="0.3" text-anchor="middle">4</text>
<circle cx="596.5" cy="629.8" r="12.4" fill="#a30f33" stroke="#fff" stroke-width="2.4"/>
<text transform="translate(596.50 636.70) scale(0.71 1)" font-size="19.2" font-weight="bold" fill="#fff" stroke="#fff" stroke-width="0.3" text-anchor="middle">5</text>
<circle cx="671.5" cy="629.8" r="12.4" fill="#a30f33" stroke="#fff" stroke-width="2.4"/>
<text transform="translate(671.50 636.70) scale(0.71 1)" font-size="19.2" font-weight="bold" fill="#fff" stroke="#fff" stroke-width="0.3" text-anchor="middle">6</text>
<circle cx="764.0" cy="629.8" r="12.4" fill="#a30f33" stroke="#fff" stroke-width="2.4"/>
<text transform="translate(764.00 636.70) scale(0.71 1)" font-size="19.2" font-weight="bold" fill="#fff" stroke="#fff" stroke-width="0.3" text-anchor="middle">7</text>
<circle cx="839.7" cy="629.8" r="12.4" fill="#a30f33" stroke="#fff" stroke-width="2.4"/>
<text transform="translate(839.70 636.70) scale(0.71 1)" font-size="19.2" font-weight="bold" fill="#fff" stroke="#fff" stroke-width="0.3" text-anchor="middle">8</text>
<circle cx="970.0" cy="629.8" r="12.4" fill="#a30f33" stroke="#fff" stroke-width="2.4"/>
<text transform="translate(970.00 636.70) scale(0.71 1)" font-size="19.2" font-weight="bold" fill="#fff" stroke="#fff" stroke-width="0.3" text-anchor="middle">9</text>
<circle cx="1132.0" cy="629.8" r="12.4" fill="#a30f33" stroke="#fff" stroke-width="2.4"/>
<path transform="translate(1127.00 636.70)" d="M0 0H2.8V-13.8H0.9C0.6-12.6-0.6-11.6-1.9-11.3V-9.2C-1.2-9.4-0.5-9.7 0-10.1Z" fill="#fff"/>
<text transform="translate(1135.80 636.70) scale(0.71 1)" font-size="19.2" font-weight="bold" fill="#fff" stroke="#fff" stroke-width="0.3" text-anchor="middle">0</text>
<circle cx="1169.2" cy="629.8" r="12.4" fill="#a30f33" stroke="#fff" stroke-width="2.4"/>
<path transform="translate(1164.60 636.70)" d="M0 0H2.8V-13.8H0.9C0.6-12.6-0.6-11.6-1.9-11.3V-9.2C-1.2-9.4-0.5-9.7 0-10.1Z" fill="#fff"/>
<path transform="translate(1172.70 636.70)" d="M0 0H2.8V-13.8H0.9C0.6-12.6-0.6-11.6-1.9-11.3V-9.2C-1.2-9.4-0.5-9.7 0-10.1Z" fill="#fff"/>
<circle cx="1203.9" cy="629.8" r="12.4" fill="#a30f33" stroke="#fff" stroke-width="2.4"/>
<path transform="translate(1198.90 636.70)" d="M0 0H2.8V-13.8H0.9C0.6-12.6-0.6-11.6-1.9-11.3V-9.2C-1.2-9.4-0.5-9.7 0-10.1Z" fill="#fff"/>
<text transform="translate(1207.70 636.70) scale(0.71 1)" font-size="19.2" font-weight="bold" fill="#fff" stroke="#fff" stroke-width="0.3" text-anchor="middle">2</text>
<circle cx="1233.4" cy="629.8" r="12.4" fill="#a30f33" stroke="#fff" stroke-width="2.4"/>
<path transform="translate(1228.40 636.70)" d="M0 0H2.8V-13.8H0.9C0.6-12.6-0.6-11.6-1.9-11.3V-9.2C-1.2-9.4-0.5-9.7 0-10.1Z" fill="#fff"/>
<text transform="translate(1237.20 636.70) scale(0.71 1)" font-size="19.2" font-weight="bold" fill="#fff" stroke="#fff" stroke-width="0.3" text-anchor="middle">3</text>
<circle cx="1328.8" cy="629.8" r="12.4" fill="#a30f33" stroke="#fff" stroke-width="2.4"/>
<path transform="translate(1323.80 636.70)" d="M0 0H2.8V-13.8H0.9C0.6-12.6-0.6-11.6-1.9-11.3V-9.2C-1.2-9.4-0.5-9.7 0-10.1Z" fill="#fff"/>
<text transform="translate(1332.60 636.70) scale(0.71 1)" font-size="19.2" font-weight="bold" fill="#fff" stroke="#fff" stroke-width="0.3" text-anchor="middle">4</text>
<circle cx="1370.9" cy="629.8" r="12.4" fill="#a30f33" stroke="#fff" stroke-width="2.4"/>
<path transform="translate(1365.90 636.70)" d="M0 0H2.8V-13.8H0.9C0.6-12.6-0.6-11.6-1.9-11.3V-9.2C-1.2-9.4-0.5-9.7 0-10.1Z" fill="#fff"/>
<text transform="translate(1374.70 636.70) scale(0.71 1)" font-size="19.2" font-weight="bold" fill="#fff" stroke="#fff" stroke-width="0.3" text-anchor="middle">5</text>
<circle cx="1407.5" cy="629.8" r="12.4" fill="#a30f33" stroke="#fff" stroke-width="2.4"/>
<path transform="translate(1402.50 636.70)" d="M0 0H2.8V-13.8H0.9C0.6-12.6-0.6-11.6-1.9-11.3V-9.2C-1.2-9.4-0.5-9.7 0-10.1Z" fill="#fff"/>
<text transform="translate(1411.30 636.70) scale(0.71 1)" font-size="19.2" font-weight="bold" fill="#fff" stroke="#fff" stroke-width="0.3" text-anchor="middle">6</text>
<text transform="translate(136.66 687.20) scale(0.715 1)" font-size="22.6" font-weight="bold" fill="#fff" stroke="#fff" stroke-width="8.40" stroke-linejoin="round">4.4</text><text transform="translate(164.15 687.20) scale(0.727 1)" font-size="22.6" font-weight="bold" fill="#fff" stroke="#fff" stroke-width="8.40" stroke-linejoin="round">km</text>
<text transform="translate(199.06 687.20) scale(0.715 1)" font-size="22.6" font-weight="bold" fill="#fff" stroke="#fff" stroke-width="8.40" stroke-linejoin="round">4.8</text><text transform="translate(222.05 687.20) scale(0.727 1)" font-size="22.6" font-weight="bold" fill="#fff" stroke="#fff" stroke-width="8.40" stroke-linejoin="round">km</text>
<text transform="translate(260.16 687.20) scale(0.715 1)" font-size="22.6" font-weight="bold" fill="#fff" stroke="#fff" stroke-width="8.40" stroke-linejoin="round">4.4</text><text transform="translate(287.65 687.20) scale(0.727 1)" font-size="22.6" font-weight="bold" fill="#fff" stroke="#fff" stroke-width="8.40" stroke-linejoin="round">km</text>
<text transform="translate(333.90 687.20) scale(0.715 1)" font-size="22.6" font-weight="bold" fill="#fff" stroke="#fff" stroke-width="8.40" stroke-linejoin="round">6.4</text><text transform="translate(361.75 687.20) scale(0.727 1)" font-size="22.6" font-weight="bold" fill="#fff" stroke="#fff" stroke-width="8.40" stroke-linejoin="round">km</text>
<path transform="translate(565.50 687.20) scale(1.06 1.174)" d="M0 0H2.8V-13.8H0.9C0.6-12.6-0.6-11.6-1.9-11.3V-9.2C-1.2-9.4-0.5-9.7 0-10.1Z" fill="#fff" stroke="#fff" stroke-width="7.64" stroke-linejoin="round"/><path transform="translate(574.80 687.20) scale(1.06 1.174)" d="M0 0H2.8V-13.8H0.9C0.6-12.6-0.6-11.6-1.9-11.3V-9.2C-1.2-9.4-0.5-9.7 0-10.1Z" fill="#fff" stroke="#fff" stroke-width="7.64" stroke-linejoin="round"/><text transform="translate(580.90 687.20) scale(0.715 1)" font-size="22.6" font-weight="bold" fill="#fff" stroke="#fff" stroke-width="8.40" stroke-linejoin="round">.9</text><text transform="translate(599.25 687.20) scale(0.727 1)" font-size="22.6" font-weight="bold" fill="#fff" stroke="#fff" stroke-width="8.40" stroke-linejoin="round">km</text>
<text transform="translate(645.38 687.20) scale(0.715 1)" font-size="22.6" font-weight="bold" fill="#fff" stroke="#fff" stroke-width="8.40" stroke-linejoin="round">8.0</text><text transform="translate(673.15 687.20) scale(0.727 1)" font-size="22.6" font-weight="bold" fill="#fff" stroke="#fff" stroke-width="8.40" stroke-linejoin="round">km</text>
<text transform="translate(739.93 687.20) scale(0.715 1)" font-size="22.6" font-weight="bold" fill="#fff" stroke="#fff" stroke-width="8.40" stroke-linejoin="round">9.3</text><text transform="translate(767.75 687.20) scale(0.727 1)" font-size="22.6" font-weight="bold" fill="#fff" stroke="#fff" stroke-width="8.40" stroke-linejoin="round">km</text>
<text transform="translate(814.33 687.20) scale(0.715 1)" font-size="22.6" font-weight="bold" fill="#fff" stroke="#fff" stroke-width="8.40" stroke-linejoin="round">9.4</text><text transform="translate(842.15 687.20) scale(0.727 1)" font-size="22.6" font-weight="bold" fill="#fff" stroke="#fff" stroke-width="8.40" stroke-linejoin="round">km</text>
<path transform="translate(938.60 687.20) scale(1.06 1.174)" d="M0 0H2.8V-13.8H0.9C0.6-12.6-0.6-11.6-1.9-11.3V-9.2C-1.2-9.4-0.5-9.7 0-10.1Z" fill="#fff" stroke="#fff" stroke-width="7.64" stroke-linejoin="round"/><path transform="translate(947.90 687.20) scale(1.06 1.174)" d="M0 0H2.8V-13.8H0.9C0.6-12.6-0.6-11.6-1.9-11.3V-9.2C-1.2-9.4-0.5-9.7 0-10.1Z" fill="#fff" stroke="#fff" stroke-width="7.64" stroke-linejoin="round"/><text transform="translate(954.00 687.20) scale(0.715 1)" font-size="22.6" font-weight="bold" fill="#fff" stroke="#fff" stroke-width="8.40" stroke-linejoin="round">.5</text><text transform="translate(972.35 687.20) scale(0.727 1)" font-size="22.6" font-weight="bold" fill="#fff" stroke="#fff" stroke-width="8.40" stroke-linejoin="round">km</text>
<text transform="translate(1088.95 687.20) scale(0.715 1)" font-size="22.6" font-weight="bold" fill="#fff" stroke="#fff" stroke-width="8.40" stroke-linejoin="round">0.6</text><text transform="translate(1116.85 687.20) scale(0.727 1)" font-size="22.6" font-weight="bold" fill="#fff" stroke="#fff" stroke-width="8.40" stroke-linejoin="round">km</text>
<text transform="translate(1144.03 662.20) scale(0.715 1)" font-size="22.6" font-weight="bold" fill="#fff" stroke="#fff" stroke-width="8.40" stroke-linejoin="round">2.4</text><text transform="translate(1171.85 662.20) scale(0.727 1)" font-size="22.6" font-weight="bold" fill="#fff" stroke="#fff" stroke-width="8.40" stroke-linejoin="round">km</text>
<path transform="translate(1190.80 687.20) scale(1.06 1.174)" d="M0 0H2.8V-13.8H0.9C0.6-12.6-0.6-11.6-1.9-11.3V-9.2C-1.2-9.4-0.5-9.7 0-10.1Z" fill="#fff" stroke="#fff" stroke-width="7.64" stroke-linejoin="round"/><text transform="translate(1196.60 687.20) scale(0.715 1)" font-size="22.6" font-weight="bold" fill="#fff" stroke="#fff" stroke-width="8.40" stroke-linejoin="round">.</text><path transform="translate(1204.90 687.20) scale(1.06 1.174)" d="M0 0H2.8V-13.8H0.9C0.6-12.6-0.6-11.6-1.9-11.3V-9.2C-1.2-9.4-0.5-9.7 0-10.1Z" fill="#fff" stroke="#fff" stroke-width="7.64" stroke-linejoin="round"/><text transform="translate(1215.15 687.20) scale(0.727 1)" font-size="22.6" font-weight="bold" fill="#fff" stroke="#fff" stroke-width="8.40" stroke-linejoin="round">km</text>
<text transform="translate(1216.45 662.20) scale(0.715 1)" font-size="22.6" font-weight="bold" fill="#fff" stroke="#fff" stroke-width="8.40" stroke-linejoin="round">0.7</text><text transform="translate(1244.35 662.20) scale(0.727 1)" font-size="22.6" font-weight="bold" fill="#fff" stroke="#fff" stroke-width="8.40" stroke-linejoin="round">km</text>
<text transform="translate(1285.03 687.20) scale(0.715 1)" font-size="22.6" font-weight="bold" fill="#fff" stroke="#fff" stroke-width="8.40" stroke-linejoin="round">3.3</text><text transform="translate(1312.65 687.20) scale(0.727 1)" font-size="22.6" font-weight="bold" fill="#fff" stroke="#fff" stroke-width="8.40" stroke-linejoin="round">km</text>
<text transform="translate(1344.53 662.20) scale(0.715 1)" font-size="22.6" font-weight="bold" fill="#fff" stroke="#fff" stroke-width="8.40" stroke-linejoin="round">2.4</text><text transform="translate(1372.35 662.20) scale(0.727 1)" font-size="22.6" font-weight="bold" fill="#fff" stroke="#fff" stroke-width="8.40" stroke-linejoin="round">km</text>
<path transform="translate(1398.70 687.20) scale(1.06 1.174)" d="M0 0H2.8V-13.8H0.9C0.6-12.6-0.6-11.6-1.9-11.3V-9.2C-1.2-9.4-0.5-9.7 0-10.1Z" fill="#fff" stroke="#fff" stroke-width="7.64" stroke-linejoin="round"/><text transform="translate(1404.50 687.20) scale(0.715 1)" font-size="22.6" font-weight="bold" fill="#fff" stroke="#fff" stroke-width="8.40" stroke-linejoin="round">.</text><path transform="translate(1412.80 687.20) scale(1.06 1.174)" d="M0 0H2.8V-13.8H0.9C0.6-12.6-0.6-11.6-1.9-11.3V-9.2C-1.2-9.4-0.5-9.7 0-10.1Z" fill="#fff" stroke="#fff" stroke-width="7.64" stroke-linejoin="round"/><text transform="translate(1423.05 687.20) scale(0.727 1)" font-size="22.6" font-weight="bold" fill="#fff" stroke="#fff" stroke-width="8.40" stroke-linejoin="round">km</text>
<text transform="translate(136.66 687.20) scale(0.715 1)" font-size="22.6" font-weight="bold" fill="#161616" stroke="#161616" stroke-width="0.50" stroke-linejoin="round">4.4</text><text transform="translate(164.15 687.20) scale(0.727 1)" font-size="22.6" font-weight="bold" fill="#161616" stroke="#161616" stroke-width="0.50" stroke-linejoin="round">km</text>
<text transform="translate(199.06 687.20) scale(0.715 1)" font-size="22.6" font-weight="bold" fill="#161616" stroke="#161616" stroke-width="0.50" stroke-linejoin="round">4.8</text><text transform="translate(222.05 687.20) scale(0.727 1)" font-size="22.6" font-weight="bold" fill="#161616" stroke="#161616" stroke-width="0.50" stroke-linejoin="round">km</text>
<text transform="translate(260.16 687.20) scale(0.715 1)" font-size="22.6" font-weight="bold" fill="#161616" stroke="#161616" stroke-width="0.50" stroke-linejoin="round">4.4</text><text transform="translate(287.65 687.20) scale(0.727 1)" font-size="22.6" font-weight="bold" fill="#161616" stroke="#161616" stroke-width="0.50" stroke-linejoin="round">km</text>
<text transform="translate(333.90 687.20) scale(0.715 1)" font-size="22.6" font-weight="bold" fill="#161616" stroke="#161616" stroke-width="0.50" stroke-linejoin="round">6.4</text><text transform="translate(361.75 687.20) scale(0.727 1)" font-size="22.6" font-weight="bold" fill="#161616" stroke="#161616" stroke-width="0.50" stroke-linejoin="round">km</text>
<path transform="translate(565.50 687.20) scale(1.06 1.174)" d="M0 0H2.8V-13.8H0.9C0.6-12.6-0.6-11.6-1.9-11.3V-9.2C-1.2-9.4-0.5-9.7 0-10.1Z" fill="#161616" stroke="#161616" stroke-width="0.45" stroke-linejoin="round"/><path transform="translate(574.80 687.20) scale(1.06 1.174)" d="M0 0H2.8V-13.8H0.9C0.6-12.6-0.6-11.6-1.9-11.3V-9.2C-1.2-9.4-0.5-9.7 0-10.1Z" fill="#161616" stroke="#161616" stroke-width="0.45" stroke-linejoin="round"/><text transform="translate(580.90 687.20) scale(0.715 1)" font-size="22.6" font-weight="bold" fill="#161616" stroke="#161616" stroke-width="0.50" stroke-linejoin="round">.9</text><text transform="translate(599.25 687.20) scale(0.727 1)" font-size="22.6" font-weight="bold" fill="#161616" stroke="#161616" stroke-width="0.50" stroke-linejoin="round">km</text>
<text transform="translate(645.38 687.20) scale(0.715 1)" font-size="22.6" font-weight="bold" fill="#161616" stroke="#161616" stroke-width="0.50" stroke-linejoin="round">8.0</text><text transform="translate(673.15 687.20) scale(0.727 1)" font-size="22.6" font-weight="bold" fill="#161616" stroke="#161616" stroke-width="0.50" stroke-linejoin="round">km</text>
<text transform="translate(739.93 687.20) scale(0.715 1)" font-size="22.6" font-weight="bold" fill="#161616" stroke="#161616" stroke-width="0.50" stroke-linejoin="round">9.3</text><text transform="translate(767.75 687.20) scale(0.727 1)" font-size="22.6" font-weight="bold" fill="#161616" stroke="#161616" stroke-width="0.50" stroke-linejoin="round">km</text>
<text transform="translate(814.33 687.20) scale(0.715 1)" font-size="22.6" font-weight="bold" fill="#161616" stroke="#161616" stroke-width="0.50" stroke-linejoin="round">9.4</text><text transform="translate(842.15 687.20) scale(0.727 1)" font-size="22.6" font-weight="bold" fill="#161616" stroke="#161616" stroke-width="0.50" stroke-linejoin="round">km</text>
<path transform="translate(938.60 687.20) scale(1.06 1.174)" d="M0 0H2.8V-13.8H0.9C0.6-12.6-0.6-11.6-1.9-11.3V-9.2C-1.2-9.4-0.5-9.7 0-10.1Z" fill="#161616" stroke="#161616" stroke-width="0.45" stroke-linejoin="round"/><path transform="translate(947.90 687.20) scale(1.06 1.174)" d="M0 0H2.8V-13.8H0.9C0.6-12.6-0.6-11.6-1.9-11.3V-9.2C-1.2-9.4-0.5-9.7 0-10.1Z" fill="#161616" stroke="#161616" stroke-width="0.45" stroke-linejoin="round"/><text transform="translate(954.00 687.20) scale(0.715 1)" font-size="22.6" font-weight="bold" fill="#161616" stroke="#161616" stroke-width="0.50" stroke-linejoin="round">.5</text><text transform="translate(972.35 687.20) scale(0.727 1)" font-size="22.6" font-weight="bold" fill="#161616" stroke="#161616" stroke-width="0.50" stroke-linejoin="round">km</text>
<text transform="translate(1088.95 687.20) scale(0.715 1)" font-size="22.6" font-weight="bold" fill="#161616" stroke="#161616" stroke-width="0.50" stroke-linejoin="round">0.6</text><text transform="translate(1116.85 687.20) scale(0.727 1)" font-size="22.6" font-weight="bold" fill="#161616" stroke="#161616" stroke-width="0.50" stroke-linejoin="round">km</text>
<text transform="translate(1144.03 662.20) scale(0.715 1)" font-size="22.6" font-weight="bold" fill="#161616" stroke="#161616" stroke-width="0.50" stroke-linejoin="round">2.4</text><text transform="translate(1171.85 662.20) scale(0.727 1)" font-size="22.6" font-weight="bold" fill="#161616" stroke="#161616" stroke-width="0.50" stroke-linejoin="round">km</text>
<path transform="translate(1190.80 687.20) scale(1.06 1.174)" d="M0 0H2.8V-13.8H0.9C0.6-12.6-0.6-11.6-1.9-11.3V-9.2C-1.2-9.4-0.5-9.7 0-10.1Z" fill="#161616" stroke="#161616" stroke-width="0.45" stroke-linejoin="round"/><text transform="translate(1196.60 687.20) scale(0.715 1)" font-size="22.6" font-weight="bold" fill="#161616" stroke="#161616" stroke-width="0.50" stroke-linejoin="round">.</text><path transform="translate(1204.90 687.20) scale(1.06 1.174)" d="M0 0H2.8V-13.8H0.9C0.6-12.6-0.6-11.6-1.9-11.3V-9.2C-1.2-9.4-0.5-9.7 0-10.1Z" fill="#161616" stroke="#161616" stroke-width="0.45" stroke-linejoin="round"/><text transform="translate(1215.15 687.20) scale(0.727 1)" font-size="22.6" font-weight="bold" fill="#161616" stroke="#161616" stroke-width="0.50" stroke-linejoin="round">km</text>
<text transform="translate(1216.45 662.20) scale(0.715 1)" font-size="22.6" font-weight="bold" fill="#161616" stroke="#161616" stroke-width="0.50" stroke-linejoin="round">0.7</text><text transform="translate(1244.35 662.20) scale(0.727 1)" font-size="22.6" font-weight="bold" fill="#161616" stroke="#161616" stroke-width="0.50" stroke-linejoin="round">km</text>
<text transform="translate(1285.03 687.20) scale(0.715 1)" font-size="22.6" font-weight="bold" fill="#161616" stroke="#161616" stroke-width="0.50" stroke-linejoin="round">3.3</text><text transform="translate(1312.65 687.20) scale(0.727 1)" font-size="22.6" font-weight="bold" fill="#161616" stroke="#161616" stroke-width="0.50" stroke-linejoin="round">km</text>
<text transform="translate(1344.53 662.20) scale(0.715 1)" font-size="22.6" font-weight="bold" fill="#161616" stroke="#161616" stroke-width="0.50" stroke-linejoin="round">2.4</text><text transform="translate(1372.35 662.20) scale(0.727 1)" font-size="22.6" font-weight="bold" fill="#161616" stroke="#161616" stroke-width="0.50" stroke-linejoin="round">km</text>
<path transform="translate(1398.70 687.20) scale(1.06 1.174)" d="M0 0H2.8V-13.8H0.9C0.6-12.6-0.6-11.6-1.9-11.3V-9.2C-1.2-9.4-0.5-9.7 0-10.1Z" fill="#161616" stroke="#161616" stroke-width="0.45" stroke-linejoin="round"/><text transform="translate(1404.50 687.20) scale(0.715 1)" font-size="22.6" font-weight="bold" fill="#161616" stroke="#161616" stroke-width="0.50" stroke-linejoin="round">.</text><path transform="translate(1412.80 687.20) scale(1.06 1.174)" d="M0 0H2.8V-13.8H0.9C0.6-12.6-0.6-11.6-1.9-11.3V-9.2C-1.2-9.4-0.5-9.7 0-10.1Z" fill="#161616" stroke="#161616" stroke-width="0.45" stroke-linejoin="round"/><text transform="translate(1423.05 687.20) scale(0.727 1)" font-size="22.6" font-weight="bold" fill="#161616" stroke="#161616" stroke-width="0.50" stroke-linejoin="round">km</text>
<g transform="translate(409.9 690.8)"><circle r="9.3" fill="#fff" stroke="#1a1a1a" stroke-width="1.3"/><path d="M-2.6 -8.6V8.6M3 -8.4V8.4" stroke="#1a1a1a" stroke-width="1.5" fill="none"/><path d="M-5 -5.7H5.4M-5.4 -2H5.800M-5.4 1.7H5.800M-5 5.5H5.4" stroke="#1a1a1a" stroke-width="1.5" fill="none"/></g>
<g transform="translate(426.9 690.8)"><circle r="9.3" fill="#fff" stroke="#1a1a1a" stroke-width="1.3"/><path d="M-2.6 -8.6V8.6M3 -8.4V8.4" stroke="#1a1a1a" stroke-width="1.5" fill="none"/><path d="M-5 -5.7H5.4M-5.4 -2H5.800M-5.4 1.7H5.800M-5 5.5H5.4" stroke="#1a1a1a" stroke-width="1.5" fill="none"/></g>
<g transform="translate(707.6 690.8)"><circle r="9.3" fill="#fff" stroke="#1a1a1a" stroke-width="1.3"/><path d="M-2.6 -8.6V8.6M3 -8.4V8.4" stroke="#1a1a1a" stroke-width="1.5" fill="none"/><path d="M-5 -5.7H5.4M-5.4 -2H5.800M-5.4 1.7H5.800M-5 5.5H5.4" stroke="#1a1a1a" stroke-width="1.5" fill="none"/></g>
<g transform="translate(721.4 690.8)"><circle r="9.3" fill="#fff" stroke="#1a1a1a" stroke-width="1.3"/><path d="M-2.6 -8.6V8.6M3 -8.4V8.4" stroke="#1a1a1a" stroke-width="1.5" fill="none"/><path d="M-5 -5.7H5.4M-5.4 -2H5.800M-5.4 1.7H5.800M-5 5.5H5.4" stroke="#1a1a1a" stroke-width="1.5" fill="none"/></g>
<text transform="translate(105.7 541.5) rotate(-90) scale(0.705 1)" font-size="23" fill="#484848" stroke="#484848" stroke-width="0.3">220 - Volte Basse</text>
<text transform="translate(150.5 544.3) rotate(-90) scale(0.705 1)" font-size="23" fill="#484848" stroke="#484848" stroke-width="0.3">203 - Rosia</text>
<text transform="translate(168.5 545.3) rotate(-90) scale(0.705 1)" font-size="23" fill="#484848" stroke="#484848" stroke-width="0.3">197 - Vidritta</text>
<text transform="translate(201.9 547.1) rotate(-90) scale(0.705 1)" font-size="23" fill="#484848" stroke="#484848" stroke-width="0.3">186 - Bagnania</text>
<text transform="translate(234.0 517.7) rotate(-90) scale(0.705 1)" font-size="23" fill="#484848" stroke="#484848" stroke-width="0.3">364 - Grotti</text>
<text transform="translate(274.8 539.4) rotate(-90) scale(0.705 1)" font-size="23" fill="#484848" stroke="#484848" stroke-width="0.3">233 - Radi</text>
<text transform="translate(312.9 529.0) rotate(-90) scale(0.705 1)" font-size="23" fill="#484848" stroke="#484848" stroke-width="0.3">296 - Vescovado</text>
<text transform="translate(345.6 543.6) rotate(-90) scale(0.705 1)" font-size="23" fill="#484848" stroke="#484848" stroke-width="0.3">207 - Settore n.4</text>
<text transform="translate(397.1 553.2) rotate(-90) scale(0.705 1)" font-size="23" fill="#484848" stroke="#484848" stroke-width="0.3">149 - Ponte d'Arbia</text>
<text transform="translate(423.1 554.4) rotate(-90) scale(0.705 1)" font-size="23" fill="#484848" stroke="#484848" stroke-width="0.3">142 - Buonconvento</text>
<text transform="translate(500.0 501.6) rotate(-90) scale(0.705 1)" font-size="23" fill="#484848" stroke="#484848" stroke-width="0.3">462 - Montalcino</text>
<text transform="translate(550.8 535.1) rotate(-90) scale(0.705 1)" font-size="23" fill="#484848" stroke="#484848" stroke-width="0.3">259 - Torrenieri</text>
<text transform="translate(596.9 513.6) rotate(-90) scale(0.705 1)" font-size="23" fill="#484848" stroke="#484848" stroke-width="0.3">389 - Cosona</text>
<text transform="translate(631.0 512.6) rotate(-90) scale(0.705 1)" font-size="23" fill="#484848" stroke="#484848" stroke-width="0.3">395 - Lucignano d'Asso</text>
<text transform="translate(691.1 533.2) rotate(-90) scale(0.705 1)" font-size="23" fill="#484848" stroke="#484848" stroke-width="0.3">270 - Pieve a Salti</text>
<text transform="translate(718.5 553.7) rotate(-90) scale(0.705 1)" font-size="23" fill="#484848" stroke="#484848" stroke-width="0.3">146 - Buonconvento</text>
<text transform="translate(741.2 553.2) rotate(-90) scale(0.705 1)" font-size="23" fill="#484848" stroke="#484848" stroke-width="0.3">149 - Serravale</text>
<text transform="translate(803.4 550.6) rotate(-90) scale(0.705 1)" font-size="23" fill="#484848" stroke="#484848" stroke-width="0.3">165 - Ins. sp.12</text>
<text transform="translate(848.8 531.4) rotate(-90) scale(0.705 1)" font-size="23" fill="#484848" stroke="#484848" stroke-width="0.3">281 - San Martino in Grania</text>
<text transform="translate(876.2 522.0) rotate(-90) scale(0.705 1)" font-size="23" fill="#484848" stroke="#484848" stroke-width="0.3">338 - Bv. per Asciano</text>
<text transform="translate(936.4 549.3) rotate(-90) scale(0.705 1)" font-size="23" fill="#484848" stroke="#484848" stroke-width="0.3">173 - Settore n.8</text>
<text transform="translate(977.1 527.8) rotate(-90) scale(0.705 1)" font-size="23" fill="#484848" stroke="#484848" stroke-width="0.3">303 - Monte Sante Marie</text>
<text transform="translate(1005.7 523.7) rotate(-90) scale(0.705 1)" font-size="23" fill="#484848" stroke="#484848" stroke-width="0.3">328 - Torre a Castello</text>
<text transform="translate(1026.8 528.0) rotate(-90) scale(0.705 1)" font-size="23" fill="#484848" stroke="#484848" stroke-width="0.3">302 - Croce di Carnesecca</text>
<text transform="translate(1053.3 520.9) rotate(-90) scale(0.705 1)" font-size="23" fill="#484848" stroke="#484848" stroke-width="0.3">345 - Castelnuovo Berardenga</text>
<text transform="translate(1108.1 534.9) rotate(-90) scale(0.705 1)" font-size="23" fill="#484848" stroke="#484848" stroke-width="0.3">260 - San Piero</text>
<text transform="translate(1132.2 539.8) rotate(-90) scale(0.705 1)" font-size="23" fill="#484848" stroke="#484848" stroke-width="0.3">230 - Monteaperti</text>
<text transform="translate(1184.3 527.6) rotate(-90) scale(0.705 1)" font-size="23" fill="#484848" stroke="#484848" stroke-width="0.3">304 - Colle Pinzuto</text>
<text transform="translate(1217.1 524.8) rotate(-90) scale(0.705 1)" font-size="23" fill="#484848" stroke="#484848" stroke-width="0.3">321 - Le Tolfe</text>
<text transform="translate(1240.5 519.1) rotate(-90) scale(0.705 1)" font-size="23" fill="#484848" stroke="#484848" stroke-width="0.3">356 - Ins. sp.102</text>
<text transform="translate(1267.9 518.9) rotate(-90) scale(0.705 1)" font-size="23" fill="#484848" stroke="#484848" stroke-width="0.3">357 - Bv. per Pontignano</text>
<text transform="translate(1301.3 539.4) rotate(-90) scale(0.705 1)" font-size="23" fill="#484848" stroke="#484848" stroke-width="0.3">233 - Ponte a Bozzone</text>
<text transform="translate(1323.7 526.3) rotate(-90) scale(0.705 1)" font-size="23" fill="#484848" stroke="#484848" stroke-width="0.3">312 - San Giovanni a Cerreto</text>
<text transform="translate(1346.7 537.0) rotate(-90) scale(0.705 1)" font-size="23" fill="#484848" stroke="#484848" stroke-width="0.3">247 - Vico d'Arbia</text>
<text transform="translate(1385.5 527.6) rotate(-90) scale(0.705 1)" font-size="23" fill="#484848" stroke="#484848" stroke-width="0.3">304 - Colle Pinzuto</text>
<text transform="translate(1418.9 524.8) rotate(-90) scale(0.705 1)" font-size="23" fill="#484848" stroke="#484848" stroke-width="0.3">321 - Le Tolfe</text>
<text transform="translate(106.3 735.6) rotate(-90) scale(0.695 1)" font-size="23" fill="#444" stroke="#444" stroke-width="0.3" text-anchor="end">4.8</text>
<text transform="translate(151.1 735.6) rotate(-90) scale(0.695 1)" font-size="23" fill="#444" stroke="#444" stroke-width="0.3" text-anchor="end">11.5</text>
<text transform="translate(169.1 735.6) rotate(-90) scale(0.695 1)" font-size="23" fill="#444" stroke="#444" stroke-width="0.3" text-anchor="end">14.2</text>
<text transform="translate(202.5 735.6) rotate(-90) scale(0.695 1)" font-size="23" fill="#444" stroke="#444" stroke-width="0.3" text-anchor="end">19.2</text>
<text transform="translate(234.6 735.6) rotate(-90) scale(0.695 1)" font-size="23" fill="#444" stroke="#444" stroke-width="0.3" text-anchor="end">24.0</text>
<text transform="translate(275.4 735.6) rotate(-90) scale(0.695 1)" font-size="23" fill="#444" stroke="#444" stroke-width="0.3" text-anchor="end">30.1</text>
<text transform="translate(313.5 735.6) rotate(-90) scale(0.695 1)" font-size="23" fill="#444" stroke="#444" stroke-width="0.3" text-anchor="end">35.8</text>
<text transform="translate(346.2 735.6) rotate(-90) scale(0.695 1)" font-size="23" fill="#444" stroke="#444" stroke-width="0.3" text-anchor="end">40.7</text>
<text transform="translate(397.7 735.6) rotate(-90) scale(0.695 1)" font-size="23" fill="#444" stroke="#444" stroke-width="0.3" text-anchor="end">48.4</text>
<text transform="translate(423.7 735.6) rotate(-90) scale(0.695 1)" font-size="23" fill="#444" stroke="#444" stroke-width="0.3" text-anchor="end">52.3</text>
<text transform="translate(500.6 735.6) rotate(-90) scale(0.695 1)" font-size="23" fill="#444" stroke="#444" stroke-width="0.3" text-anchor="end">63.8</text>
<text transform="translate(551.4 735.6) rotate(-90) scale(0.695 1)" font-size="23" fill="#444" stroke="#444" stroke-width="0.3" text-anchor="end">71.4</text>
<text transform="translate(597.5 735.6) rotate(-90) scale(0.695 1)" font-size="23" fill="#444" stroke="#444" stroke-width="0.3" text-anchor="end">78.3</text>
<text transform="translate(631.6 735.6) rotate(-90) scale(0.695 1)" font-size="23" fill="#444" stroke="#444" stroke-width="0.3" text-anchor="end">83.4</text>
<text transform="translate(691.7 735.6) rotate(-90) scale(0.695 1)" font-size="23" fill="#444" stroke="#444" stroke-width="0.3" text-anchor="end">92.4</text>
<text transform="translate(719.1 735.6) rotate(-90) scale(0.695 1)" font-size="23" fill="#444" stroke="#444" stroke-width="0.3" text-anchor="end">96.5</text>
<text transform="translate(741.8 735.6) rotate(-90) scale(0.695 1)" font-size="23" fill="#444" stroke="#444" stroke-width="0.3" text-anchor="end">99.9</text>
<text transform="translate(804.0 735.6) rotate(-90) scale(0.695 1)" font-size="23" fill="#444" stroke="#444" stroke-width="0.3" text-anchor="end">109.2</text>
<text transform="translate(849.4 735.6) rotate(-90) scale(0.695 1)" font-size="23" fill="#444" stroke="#444" stroke-width="0.3" text-anchor="end">116.0</text>
<text transform="translate(876.8 735.6) rotate(-90) scale(0.695 1)" font-size="23" fill="#444" stroke="#444" stroke-width="0.3" text-anchor="end">120.1</text>
<text transform="translate(937.0 735.6) rotate(-90) scale(0.695 1)" font-size="23" fill="#444" stroke="#444" stroke-width="0.3" text-anchor="end">129.1</text>
<text transform="translate(977.7 735.6) rotate(-90) scale(0.695 1)" font-size="23" fill="#444" stroke="#444" stroke-width="0.3" text-anchor="end">135.2</text>
<text transform="translate(1005.8 735.6) rotate(-90) scale(0.695 1)" font-size="23" fill="#444" stroke="#444" stroke-width="0.3" text-anchor="end">140.6</text>
<text transform="translate(1026.9 735.6) rotate(-90) scale(0.695 1)" font-size="23" fill="#444" stroke="#444" stroke-width="0.3" text-anchor="end">142.1</text>
<text transform="translate(1053.9 735.6) rotate(-90) scale(0.695 1)" font-size="23" fill="#444" stroke="#444" stroke-width="0.3" text-anchor="end">146.6</text>
<text transform="translate(1108.7 735.6) rotate(-90) scale(0.695 1)" font-size="23" fill="#444" stroke="#444" stroke-width="0.3" text-anchor="end">154.8</text>
<text transform="translate(1132.8 735.6) rotate(-90) scale(0.695 1)" font-size="23" fill="#444" stroke="#444" stroke-width="0.3" text-anchor="end">158.4</text>
<text transform="translate(1184.9 735.6) rotate(-90) scale(0.695 1)" font-size="23" fill="#444" stroke="#444" stroke-width="0.3" text-anchor="end">166.2</text>
<text transform="translate(1217.7 735.6) rotate(-90) scale(0.695 1)" font-size="23" fill="#444" stroke="#444" stroke-width="0.3" text-anchor="end">171.1</text>
<text transform="translate(1241.1 735.6) rotate(-90) scale(0.695 1)" font-size="23" fill="#444" stroke="#444" stroke-width="0.3" text-anchor="end">174.6</text>
<text transform="translate(1268.5 735.6) rotate(-90) scale(0.695 1)" font-size="23" fill="#444" stroke="#444" stroke-width="0.3" text-anchor="end">178.7</text>
<text transform="translate(1301.9 735.6) rotate(-90) scale(0.695 1)" font-size="23" fill="#444" stroke="#444" stroke-width="0.3" text-anchor="end">183.7</text>
<text transform="translate(1325.3 735.6) rotate(-90) scale(0.695 1)" font-size="23" fill="#444" stroke="#444" stroke-width="0.3" text-anchor="end">187.2</text>
<text transform="translate(1347.3 735.6) rotate(-90) scale(0.695 1)" font-size="23" fill="#444" stroke="#444" stroke-width="0.3" text-anchor="end">190.5</text>
<text transform="translate(1386.1 735.6) rotate(-90) scale(0.695 1)" font-size="23" fill="#444" stroke="#444" stroke-width="0.3" text-anchor="end">196.3</text>
<text transform="translate(1419.5 735.6) rotate(-90) scale(0.695 1)" font-size="23" fill="#444" stroke="#444" stroke-width="0.3" text-anchor="end">201.3</text>
<text transform="translate(74.4 735.8) rotate(-90) scale(0.72 1)" font-size="23.3" font-weight="bold" fill="#111" text-anchor="end">0.0</text>
<text transform="translate(1497.9 735.8) rotate(-90) scale(0.72 1)" font-size="23.3" font-weight="bold" fill="#111" text-anchor="end">213.0</text>
<text transform="translate(61.6 713.6) scale(0.82 1)" font-size="15.6" fill="#1e1e1e" stroke="#1e1e1e" stroke-width="0.35" text-anchor="middle">0</text>
<text transform="translate(134.4 713.6) scale(0.82 1)" font-size="15.6" fill="#1e1e1e" stroke="#1e1e1e" stroke-width="0.35" text-anchor="middle">10</text>
<text transform="translate(201.3 713.6) scale(0.82 1)" font-size="15.6" fill="#1e1e1e" stroke="#1e1e1e" stroke-width="0.35" text-anchor="middle">20</text>
<text transform="translate(268.1 713.6) scale(0.82 1)" font-size="15.6" fill="#1e1e1e" stroke="#1e1e1e" stroke-width="0.35" text-anchor="middle">30</text>
<text transform="translate(334.9 713.6) scale(0.82 1)" font-size="15.6" fill="#1e1e1e" stroke="#1e1e1e" stroke-width="0.35" text-anchor="middle">40</text>
<text transform="translate(401.8 713.6) scale(0.82 1)" font-size="15.6" fill="#1e1e1e" stroke="#1e1e1e" stroke-width="0.35" text-anchor="middle">50</text>
<text transform="translate(468.6 713.6) scale(0.82 1)" font-size="15.6" fill="#1e1e1e" stroke="#1e1e1e" stroke-width="0.35" text-anchor="middle">60</text>
<text transform="translate(535.4 713.6) scale(0.82 1)" font-size="15.6" fill="#1e1e1e" stroke="#1e1e1e" stroke-width="0.35" text-anchor="middle">70</text>
<text transform="translate(602.2 713.6) scale(0.82 1)" font-size="15.6" fill="#1e1e1e" stroke="#1e1e1e" stroke-width="0.35" text-anchor="middle">80</text>
<text transform="translate(669.1 713.6) scale(0.82 1)" font-size="15.6" fill="#1e1e1e" stroke="#1e1e1e" stroke-width="0.35" text-anchor="middle">90</text>
<text transform="translate(735.9 713.6) scale(0.82 1)" font-size="15.6" fill="#1e1e1e" stroke="#1e1e1e" stroke-width="0.35" text-anchor="middle">100</text>
<text transform="translate(802.7 713.6) scale(0.82 1)" font-size="15.6" fill="#1e1e1e" stroke="#1e1e1e" stroke-width="0.35" text-anchor="middle">110</text>
<text transform="translate(869.6 713.6) scale(0.82 1)" font-size="15.6" fill="#1e1e1e" stroke="#1e1e1e" stroke-width="0.35" text-anchor="middle">120</text>
<text transform="translate(936.4 713.6) scale(0.82 1)" font-size="15.6" fill="#1e1e1e" stroke="#1e1e1e" stroke-width="0.35" text-anchor="middle">130</text>
<text transform="translate(1003.2 713.6) scale(0.82 1)" font-size="15.6" fill="#1e1e1e" stroke="#1e1e1e" stroke-width="0.35" text-anchor="middle">140</text>
<text transform="translate(1070.0 713.6) scale(0.82 1)" font-size="15.6" fill="#1e1e1e" stroke="#1e1e1e" stroke-width="0.35" text-anchor="middle">150</text>
<text transform="translate(1136.9 713.6) scale(0.82 1)" font-size="15.6" fill="#1e1e1e" stroke="#1e1e1e" stroke-width="0.35" text-anchor="middle">160</text>
<text transform="translate(1203.7 713.6) scale(0.82 1)" font-size="15.6" fill="#1e1e1e" stroke="#1e1e1e" stroke-width="0.35" text-anchor="middle">170</text>
<text transform="translate(1270.5 713.6) scale(0.82 1)" font-size="15.6" fill="#1e1e1e" stroke="#1e1e1e" stroke-width="0.35" text-anchor="middle">180</text>
<text transform="translate(1337.4 713.6) scale(0.82 1)" font-size="15.6" fill="#1e1e1e" stroke="#1e1e1e" stroke-width="0.35" text-anchor="middle">190</text>
<text transform="translate(1404.2 713.6) scale(0.82 1)" font-size="15.6" fill="#1e1e1e" stroke="#1e1e1e" stroke-width="0.35" text-anchor="middle">200</text>
<text transform="translate(1471.0 713.6) scale(0.82 1)" font-size="15.6" fill="#1e1e1e" stroke="#1e1e1e" stroke-width="0.35" text-anchor="middle">210</text>
<path d="M66.0 794.8V812.4H1490.3V794.8" fill="none" stroke="#b0b0b0" stroke-width="2.8"/>
<text transform="translate(778 808) scale(0.59 1)" font-size="24" fill="#a3a3a3" text-anchor="middle">SI</text>
<path d="M13.5 378.2H45.1a5.3 5.3 0 0 1 5.3 5.3V583a21.1 21.1 0 0 1 -42.2 0V383.5a5.3 5.3 0 0 1 5.3 -5.3Z" fill="url(#pillg)" stroke="#0e9c38" stroke-width="4.9"/>
<circle cx="29.5" cy="583.1" r="18.7" fill="url(#greeng)" stroke="#0c2411" stroke-width="2.4"/>
<g fill="none" stroke="#fff" stroke-width="2.1"><circle cx="20.1" cy="588.7" r="5.1"/><circle cx="38.4" cy="588.7" r="5.1"/></g>
<circle cx="34.7" cy="573.3" r="2.4" fill="#fff"/>
<path d="M20.9 576.3C21 574.6 21.6 573.6 23 573C25 572.1 28.5 571.9 30.6 572.1C32.2 572.3 33.3 573 33.7 574.2C34 575.3 33.7 576.2 32.6 576.9L30.6 578C28.5 578.8 26 579.1 24 578.9C22 578.7 20.9 577.8 20.9 576.3Z" fill="#fff"/>
<g fill="none" stroke="#fff" stroke-linecap="round" stroke-linejoin="round"><path d="M32.6 575.4L36 578.4L39 580.2" stroke-width="2.2"/><path d="M23.8 577.6L30 582.6L27.5 589.8" stroke-width="2.6"/><path d="M24.4 578L25.8 584.2L24.2 587.6" stroke-width="2.2"/><path d="M37.4 580.6L38.4 588.7M20.1 588.7L27.9 589.4L24.7 581.5M27.9 589.4L36.5 581.4" stroke-width="1.3"/></g>
<text transform="translate(39.3 546.9) rotate(-90) scale(0.922 1)" font-size="29.6" font-weight="bold" fill="#1d1d1f" stroke="#1d1d1f" stroke-width="0.5">240 - SIENA</text>
<path d="M1512.1 175.2H1543.3a5.3 5.3 0 0 1 5.3 5.3V565.1a20.9 20.9 0 0 1 -41.8 0V180.5a5.3 5.3 0 0 1 5.3 -5.3Z" fill="url(#pillg)" stroke="#e60012" stroke-width="5.2"/>
<circle cx="1527.6" cy="565" r="19.4" fill="#e60012"/>
<circle cx="1527.6" cy="563.4" r="17.8" fill="#d3061c" stroke="#1c0a0a" stroke-width="2.3"/>
<path d="M1512.5 556a16 16 0 0 1 30.500 0c-4 6-8 9-15 9s-12-3-15.500-9z" fill="#ee4a1d"/>
<g fill="none" stroke="#fff" stroke-width="2.2"><circle cx="1518.500" cy="570.5" r="4.500"/><circle cx="1536.2" cy="570.5" r="4.500"/></g>
<path d="M1518.5 570.5L1523.7 565.8L1527.6 571.9L1518.5 570.5M1527.6 571.9L1532.8 564.1M1534.0 562.4L1536.2 570.5" fill="none" stroke="#fff" stroke-width="1.5" stroke-linejoin="round" stroke-linecap="round"/>
<path d="M1523.93 548.40C1524.42 547.74 1524.54 546.43 1525.16 545.94C1525.77 545.45 1526.83 545.37 1527.61 545.45C1528.39 545.54 1529.37 545.94 1529.82 546.43C1530.27 546.93 1530.27 547.66 1530.31 548.40C1530.35 549.13 1530.35 550.03 1530.06 550.85C1529.78 551.67 1529.16 552.57 1528.59 553.30C1528.02 554.04 1527.08 554.53 1526.63 555.27C1526.18 556.00 1525.89 556.98 1525.89 557.72C1525.89 558.46 1526.18 559.11 1526.63 559.68C1527.08 560.26 1527.61 560.91 1528.59 561.16C1529.57 561.40 1531.53 561.36 1532.52 561.16C1533.50 560.95 1533.82 560.01 1534.48 559.93C1535.13 559.85 1536.03 560.21 1536.44 560.66C1536.85 561.11 1537.09 562.14 1536.93 562.63C1536.77 563.12 1536.20 563.44 1535.46 563.61C1534.72 563.77 1533.41 563.44 1532.52 563.61C1531.62 563.77 1530.63 564.10 1530.06 564.59C1529.49 565.08 1529.33 565.57 1529.08 566.55C1528.84 567.53 1528.84 569.50 1528.59 570.48C1528.34 571.46 1528.10 572.11 1527.61 572.44C1527.12 572.77 1526.22 572.77 1525.65 572.44C1525.07 572.11 1524.50 571.30 1524.17 570.48C1523.85 569.66 1523.85 568.52 1523.68 567.53C1523.52 566.55 1523.52 565.41 1523.19 564.59C1522.87 563.77 1522.21 563.44 1521.72 562.63C1521.23 561.81 1520.53 560.58 1520.25 559.68C1519.96 558.78 1519.84 558.13 1520.00 557.23C1520.17 556.33 1520.94 555.19 1521.23 554.29C1521.52 553.39 1521.56 552.57 1521.72 551.83C1521.88 551.10 1521.84 550.44 1522.21 549.87C1522.58 549.30 1523.44 549.05 1523.93 548.40Z" fill="#fff"/>
<text transform="translate(1539.3 532.6) rotate(-90) scale(0.915 1)" font-size="30" font-weight="bold" fill="#1d1d1f" stroke="#1d1d1f" stroke-width="0.5">318 - SIENA</text>
<text transform="translate(1537.3 371.8) rotate(-90) scale(0.888 1)" font-size="23.2" font-weight="bold" fill="#1d1d1f" stroke="#1d1d1f" stroke-width="0.35">(Piazza del Campo)</text>
<g fill="none" stroke="#111" stroke-width="2.7" stroke-linecap="round" stroke-linejoin="round"><path d="M1501 648.3C1500 652 1499.800 657 1501.2 660.2C1502 661.900 1503.700 662 1504.500 660.100L1507.400 650.700C1508 648.500 1509.800 647.800 1510.700 650.200C1511.900 654 1511.900 658.500 1510.400 662C1509.900 663.300 1509.200 664.300 1508.300 665.300"/><path d="M1499.800 675.500L1509.100 666.600C1510.900 669.700 1511.700 673.200 1511.600 676.700Z"/><path d="M1500.600 681.800C1499.800 685.500 1499.800 690 1501.300 693C1502.200 694.600 1503.900 694.500 1504.700 692.600L1507.700 683.600C1508.400 681.400 1510.100 680.800 1510.900 683.200C1511.900 686.500 1511.700 690.500 1510.200 693.300C1509.500 694.600 1508.400 695.500 1507.100 696.100"/></g>
</svg></body></html>
